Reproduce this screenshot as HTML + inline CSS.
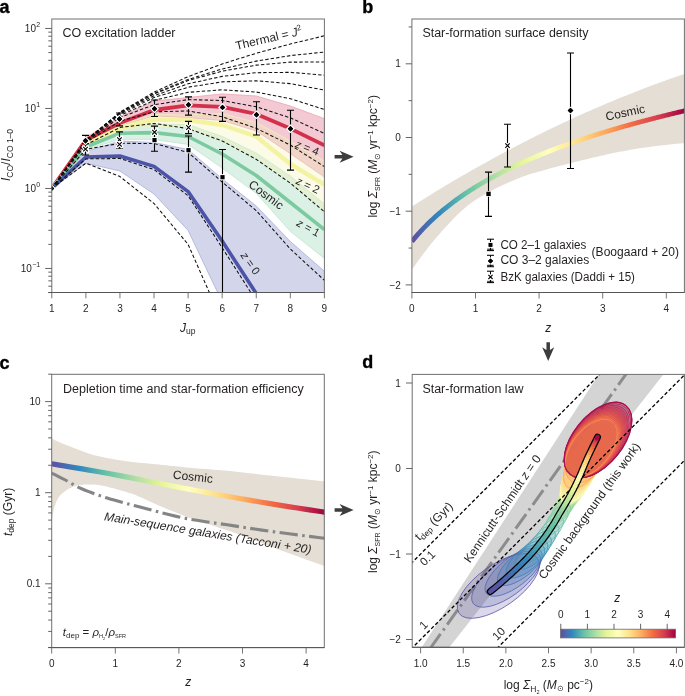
<!DOCTYPE html>
<html><head><meta charset="utf-8"><style>
html,body{margin:0;padding:0;background:#fff;}
svg{display:block;will-change:transform;}
text{font-family:"Liberation Sans", sans-serif;}
</style></head><body>
<svg width="685" height="696" viewBox="0 0 685 696" font-family="Liberation Sans, sans-serif">
<rect width="685" height="696" fill="#fff"/>
<clipPath id="ca"><rect x="51.80" y="19.00" width="272.60" height="273.50"/></clipPath>
<g clip-path="url(#ca)">
<polygon points="51.80,188.47 85.88,151.50 119.95,141.00 154.03,142.50 188.10,149.50 222.18,178.80 256.25,206.00 290.33,241.50 324.40,271.30 324.40,520.00 290.33,450.00 256.25,380.00 222.18,302.00 188.10,230.40 154.03,194.00 119.95,171.00 85.88,163.20 51.80,188.47" fill="#d3d5eb" stroke="#a9aedc" stroke-width="0.8"/>
<polygon points="51.80,188.47 85.88,144.00 119.95,128.50 154.03,124.00 188.10,124.50 222.18,136.50 256.25,153.00 290.33,176.00 324.40,204.00 324.40,258.40 290.33,231.30 256.25,193.30 222.18,168.00 188.10,144.40 154.03,139.50 119.95,139.30 85.88,149.50 51.80,188.47" fill="#dcf1e5" stroke="#bfe5cf" stroke-width="0.8"/>
<polygon points="51.80,188.47 85.88,137.50 119.95,117.00 154.03,101.00 188.10,97.50 222.18,93.90 256.25,96.00 290.33,106.00 324.40,118.70 324.40,177.00 290.33,153.60 256.25,131.00 222.18,120.50 188.10,117.70 154.03,115.80 119.95,126.00 85.88,142.00 51.80,188.47" fill="#f3c9d3" stroke="#e9a3b2" stroke-width="0.8"/>
<polygon points="51.80,188.47 85.88,141.50 119.95,124.50 154.03,114.50 188.10,115.00 222.18,113.50 256.25,122.50 290.33,141.00 324.40,161.00 324.40,210.00 290.33,181.50 256.25,158.00 222.18,141.00 188.10,127.50 154.03,126.00 119.95,130.00 85.88,145.50 51.80,188.47" fill="rgb(242,242,178)" fill-opacity="0.3" stroke="#f1f1b8" stroke-width="0.8"/>
<polyline points="51.80,188.47 85.88,143.50 119.95,128.00 154.03,119.50 188.10,120.00 222.18,125.00 256.25,136.50 290.33,164.00 324.40,184.70" fill="none" stroke="#f3f3a2" stroke-width="4.40" stroke-linejoin="round"/>
<polyline points="51.80,188.47 85.88,140.00 119.95,123.00 154.03,110.00 188.10,105.30 222.18,106.80 256.25,113.90 290.33,128.60 324.40,145.30" fill="none" stroke="#d3304b" stroke-width="3.80" stroke-linejoin="round"/>
<polyline points="51.80,188.47 85.88,147.00 119.95,133.20 154.03,132.60 188.10,136.50 222.18,154.00 256.25,175.50 290.33,202.50 324.40,229.60" fill="none" stroke="#7dcaa1" stroke-width="3.60" stroke-linejoin="round"/>
<polyline points="51.80,188.47 85.88,157.00 119.95,156.00 154.03,166.40 188.10,191.60 222.18,241.10 256.25,293.50 290.33,350.00 324.40,410.00" fill="none" stroke="#4c54a7" stroke-width="3.60" stroke-linejoin="round"/>
<polyline points="51.80,188.47 85.88,140.31 119.95,112.13 154.03,92.14 188.10,76.63 222.18,63.97 256.25,53.25 290.33,43.98 324.40,35.79" fill="none" stroke="#111" stroke-width="1.05" stroke-linejoin="round" stroke-dasharray="3.4,2.1"/>
<polyline points="51.80,188.47 85.88,140.39 119.95,112.62 154.03,93.50 188.10,79.46 222.18,68.93 256.25,61.12 290.33,55.60 324.40,52.08" fill="none" stroke="#111" stroke-width="1.05" stroke-linejoin="round" stroke-dasharray="3.4,2.1"/>
<polyline points="51.80,188.47 85.88,140.39 119.95,112.71 154.03,93.91 188.10,80.53 222.18,71.17 256.25,65.14 290.33,62.14 324.40,62.01" fill="none" stroke="#111" stroke-width="1.05" stroke-linejoin="round" stroke-dasharray="3.4,2.1"/>
<polyline points="51.80,188.47 85.88,140.54 119.95,113.43 154.03,95.67 188.10,83.80 222.18,76.37 256.25,72.67 290.33,72.35 324.40,75.20" fill="none" stroke="#111" stroke-width="1.05" stroke-linejoin="round" stroke-dasharray="3.4,2.1"/>
<polyline points="51.80,188.47 85.88,140.71 119.95,114.19 154.03,97.51 188.10,87.22 222.18,81.89 256.25,80.81 290.33,83.62 324.40,90.12" fill="none" stroke="#111" stroke-width="1.05" stroke-linejoin="round" stroke-dasharray="3.4,2.1"/>
<polyline points="51.80,188.47 85.88,141.02 119.95,115.48 154.03,100.41 188.10,92.35 222.18,89.81 256.25,92.06 290.33,98.70 324.40,109.49" fill="none" stroke="#111" stroke-width="1.05" stroke-linejoin="round" stroke-dasharray="3.4,2.1"/>
<polyline points="51.80,188.47 85.88,141.57 119.95,117.52 154.03,104.71 188.10,99.57 222.18,100.53 256.25,106.77 290.33,117.84 324.40,133.43" fill="none" stroke="#111" stroke-width="1.05" stroke-linejoin="round" stroke-dasharray="3.4,2.1"/>
<polyline points="51.80,188.47 85.88,142.67 119.95,121.14 154.03,111.84 188.10,110.96 222.18,116.77 256.25,128.32 290.33,145.05 324.40,166.58" fill="none" stroke="#111" stroke-width="1.05" stroke-linejoin="round" stroke-dasharray="3.4,2.1"/>
<polyline points="51.80,188.47 85.88,144.83 119.95,127.47 154.03,123.46 188.10,128.60 222.18,140.93 256.25,159.33 290.33,183.12 324.40,211.79" fill="none" stroke="#111" stroke-width="1.05" stroke-linejoin="round" stroke-dasharray="3.4,2.1"/>
<polyline points="51.80,188.47 85.88,149.30 119.95,143.30 154.03,143.50 188.10,152.40 222.18,182.00 256.25,210.60 290.33,249.00 324.40,280.30" fill="none" stroke="#111" stroke-width="1.05" stroke-linejoin="round" stroke-dasharray="3.4,2.1"/>
<polyline points="51.80,188.47 85.88,158.90 119.95,158.50 154.03,169.60 188.10,195.70 222.18,247.70 256.25,301.00 290.33,360.00 324.40,420.00" fill="none" stroke="#111" stroke-width="1.05" stroke-linejoin="round" stroke-dasharray="3.4,2.1"/>
<polyline points="51.80,188.47 85.88,163.20 119.95,176.60 154.03,203.50 188.10,244.40 222.18,321.50 256.25,400.00 290.33,480.00 324.40,560.00" fill="none" stroke="#111" stroke-width="1.05" stroke-linejoin="round" stroke-dasharray="3.4,2.1"/>
<line x1="85.50" y1="143.50" x2="85.50" y2="155.00" stroke="#000" stroke-width="1.10"/>
<line x1="82.00" y1="143.50" x2="89.00" y2="143.50" stroke="#000" stroke-width="1.10"/>
<line x1="82.00" y1="155.00" x2="89.00" y2="155.00" stroke="#000" stroke-width="1.10"/>
<line x1="119.50" y1="131.90" x2="119.50" y2="148.20" stroke="#000" stroke-width="1.10"/>
<line x1="116.00" y1="131.90" x2="123.00" y2="131.90" stroke="#000" stroke-width="1.10"/>
<line x1="116.00" y1="148.20" x2="123.00" y2="148.20" stroke="#000" stroke-width="1.10"/>
<line x1="119.50" y1="134.50" x2="119.50" y2="146.80" stroke="#000" stroke-width="1.10"/>
<line x1="116.00" y1="146.80" x2="123.00" y2="146.80" stroke="#000" stroke-width="1.10"/>
<line x1="154.50" y1="126.10" x2="154.50" y2="137.50" stroke="#000" stroke-width="1.10"/>
<line x1="151.00" y1="126.10" x2="158.00" y2="126.10" stroke="#000" stroke-width="1.10"/>
<line x1="188.50" y1="121.40" x2="188.50" y2="133.60" stroke="#000" stroke-width="1.10"/>
<line x1="185.00" y1="121.40" x2="192.00" y2="121.40" stroke="#000" stroke-width="1.10"/>
<line x1="185.00" y1="133.60" x2="192.00" y2="133.60" stroke="#000" stroke-width="1.10"/>
<line x1="154.50" y1="136.00" x2="154.50" y2="151.30" stroke="#000" stroke-width="1.10"/>
<line x1="151.00" y1="151.30" x2="158.00" y2="151.30" stroke="#000" stroke-width="1.10"/>
<line x1="188.50" y1="136.00" x2="188.50" y2="172.10" stroke="#000" stroke-width="1.10"/>
<line x1="185.00" y1="136.00" x2="192.00" y2="136.00" stroke="#000" stroke-width="1.10"/>
<line x1="185.00" y1="172.10" x2="192.00" y2="172.10" stroke="#000" stroke-width="1.10"/>
<line x1="222.50" y1="149.50" x2="222.50" y2="300.00" stroke="#000" stroke-width="1.10"/>
<line x1="219.00" y1="149.50" x2="226.00" y2="149.50" stroke="#000" stroke-width="1.10"/>
<line x1="85.50" y1="135.40" x2="85.50" y2="146.00" stroke="#000" stroke-width="1.10"/>
<line x1="82.00" y1="135.40" x2="89.00" y2="135.40" stroke="#000" stroke-width="1.10"/>
<line x1="119.50" y1="113.00" x2="119.50" y2="125.90" stroke="#000" stroke-width="1.10"/>
<line x1="116.00" y1="113.00" x2="123.00" y2="113.00" stroke="#000" stroke-width="1.10"/>
<line x1="116.00" y1="125.90" x2="123.00" y2="125.90" stroke="#000" stroke-width="1.10"/>
<line x1="154.50" y1="100.00" x2="154.50" y2="116.50" stroke="#000" stroke-width="1.10"/>
<line x1="151.00" y1="100.00" x2="158.00" y2="100.00" stroke="#000" stroke-width="1.10"/>
<line x1="151.00" y1="116.50" x2="158.00" y2="116.50" stroke="#000" stroke-width="1.10"/>
<line x1="188.50" y1="96.90" x2="188.50" y2="115.10" stroke="#000" stroke-width="1.10"/>
<line x1="185.00" y1="96.90" x2="192.00" y2="96.90" stroke="#000" stroke-width="1.10"/>
<line x1="185.00" y1="115.10" x2="192.00" y2="115.10" stroke="#000" stroke-width="1.10"/>
<line x1="222.50" y1="97.30" x2="222.50" y2="121.40" stroke="#000" stroke-width="1.10"/>
<line x1="219.00" y1="97.30" x2="226.00" y2="97.30" stroke="#000" stroke-width="1.10"/>
<line x1="219.00" y1="121.40" x2="226.00" y2="121.40" stroke="#000" stroke-width="1.10"/>
<line x1="256.50" y1="101.80" x2="256.50" y2="135.00" stroke="#000" stroke-width="1.10"/>
<line x1="253.00" y1="101.80" x2="260.00" y2="101.80" stroke="#000" stroke-width="1.10"/>
<line x1="253.00" y1="135.00" x2="260.00" y2="135.00" stroke="#000" stroke-width="1.10"/>
<line x1="290.50" y1="110.20" x2="290.50" y2="170.10" stroke="#000" stroke-width="1.10"/>
<line x1="287.00" y1="110.20" x2="294.00" y2="110.20" stroke="#000" stroke-width="1.10"/>
<line x1="287.00" y1="170.10" x2="294.00" y2="170.10" stroke="#000" stroke-width="1.10"/>
<path d="M83.20 146.80L87.80 151.40M83.20 151.40L87.80 146.80" stroke="#fff" stroke-width="3.30" stroke-linecap="round"/>
<path d="M83.20 146.80L87.80 151.40M83.20 151.40L87.80 146.80" stroke="#000" stroke-width="1.10"/>
<path d="M117.20 137.30L121.80 141.90M117.20 141.90L121.80 137.30" stroke="#fff" stroke-width="3.30" stroke-linecap="round"/>
<path d="M117.20 137.30L121.80 141.90M117.20 141.90L121.80 137.30" stroke="#000" stroke-width="1.10"/>
<path d="M117.20 142.10L121.80 146.70M117.20 146.70L121.80 142.10" stroke="#fff" stroke-width="3.30" stroke-linecap="round"/>
<path d="M117.20 142.10L121.80 146.70M117.20 146.70L121.80 142.10" stroke="#000" stroke-width="1.10"/>
<path d="M152.20 129.90L156.80 134.50M152.20 134.50L156.80 129.90" stroke="#fff" stroke-width="3.30" stroke-linecap="round"/>
<path d="M152.20 129.90L156.80 134.50M152.20 134.50L156.80 129.90" stroke="#000" stroke-width="1.10"/>
<path d="M186.20 125.20L190.80 129.80M186.20 129.80L190.80 125.20" stroke="#fff" stroke-width="3.30" stroke-linecap="round"/>
<path d="M186.20 125.20L190.80 129.80M186.20 129.80L190.80 125.20" stroke="#000" stroke-width="1.10"/>
<rect x="152.40" y="138.00" width="4.20" height="4.20" fill="#000" stroke="#fff" stroke-width="2.00" paint-order="stroke"/>
<rect x="186.40" y="148.10" width="4.20" height="4.20" fill="#000" stroke="#fff" stroke-width="2.00" paint-order="stroke"/>
<rect x="220.40" y="175.10" width="4.20" height="4.20" fill="#000" stroke="#fff" stroke-width="2.00" paint-order="stroke"/>
<polygon points="51.50,185.77 54.20,188.47 51.50,191.17 48.80,188.47" fill="#000" stroke="#fff" stroke-width="2.60" paint-order="stroke"/>
<polygon points="51.50,185.77 54.20,188.47 51.50,191.17 48.80,188.47" fill="#000"/>
<polygon points="85.50,138.10 88.20,140.80 85.50,143.50 82.80,140.80" fill="#000" stroke="#fff" stroke-width="2.60" paint-order="stroke"/>
<polygon points="85.50,138.10 88.20,140.80 85.50,143.50 82.80,140.80" fill="#000"/>
<polygon points="119.50,116.30 122.20,119.00 119.50,121.70 116.80,119.00" fill="#000" stroke="#fff" stroke-width="2.60" paint-order="stroke"/>
<polygon points="119.50,116.30 122.20,119.00 119.50,121.70 116.80,119.00" fill="#000"/>
<polygon points="154.50,106.10 157.20,108.80 154.50,111.50 151.80,108.80" fill="#000" stroke="#fff" stroke-width="2.60" paint-order="stroke"/>
<polygon points="154.50,106.10 157.20,108.80 154.50,111.50 151.80,108.80" fill="#000"/>
<polygon points="188.50,102.10 191.20,104.80 188.50,107.50 185.80,104.80" fill="#000" stroke="#fff" stroke-width="2.60" paint-order="stroke"/>
<polygon points="188.50,102.10 191.20,104.80 188.50,107.50 185.80,104.80" fill="#000"/>
<polygon points="222.50,104.70 225.20,107.40 222.50,110.10 219.80,107.40" fill="#000" stroke="#fff" stroke-width="2.60" paint-order="stroke"/>
<polygon points="222.50,104.70 225.20,107.40 222.50,110.10 219.80,107.40" fill="#000"/>
<polygon points="256.50,112.00 259.20,114.70 256.50,117.40 253.80,114.70" fill="#000" stroke="#fff" stroke-width="2.60" paint-order="stroke"/>
<polygon points="256.50,112.00 259.20,114.70 256.50,117.40 253.80,114.70" fill="#000"/>
<polygon points="290.50,126.00 293.20,128.70 290.50,131.40 287.80,128.70" fill="#000" stroke="#fff" stroke-width="2.60" paint-order="stroke"/>
<polygon points="290.50,126.00 293.20,128.70 290.50,131.40 287.80,128.70" fill="#000"/>
</g>
<rect x="51.80" y="19.00" width="272.60" height="273.50" fill="none" stroke="#707070" stroke-width="1"/>
<line x1="48.30" y1="292.50" x2="324.40" y2="292.50" stroke="#555" stroke-width="1"/>
<line x1="48.30" y1="292.55" x2="51.80" y2="292.55" stroke="#555" stroke-width="0.9"/>
<line x1="48.30" y1="286.22" x2="51.80" y2="286.22" stroke="#555" stroke-width="0.9"/>
<line x1="48.30" y1="280.86" x2="51.80" y2="280.86" stroke="#555" stroke-width="0.9"/>
<line x1="48.30" y1="276.22" x2="51.80" y2="276.22" stroke="#555" stroke-width="0.9"/>
<line x1="48.30" y1="272.13" x2="51.80" y2="272.13" stroke="#555" stroke-width="0.9"/>
<line x1="45.20" y1="268.47" x2="51.80" y2="268.47" stroke="#555" stroke-width="0.9"/>
<line x1="48.30" y1="244.39" x2="51.80" y2="244.39" stroke="#555" stroke-width="0.9"/>
<line x1="48.30" y1="230.30" x2="51.80" y2="230.30" stroke="#555" stroke-width="0.9"/>
<line x1="48.30" y1="220.31" x2="51.80" y2="220.31" stroke="#555" stroke-width="0.9"/>
<line x1="48.30" y1="212.55" x2="51.80" y2="212.55" stroke="#555" stroke-width="0.9"/>
<line x1="48.30" y1="206.22" x2="51.80" y2="206.22" stroke="#555" stroke-width="0.9"/>
<line x1="48.30" y1="200.86" x2="51.80" y2="200.86" stroke="#555" stroke-width="0.9"/>
<line x1="48.30" y1="196.22" x2="51.80" y2="196.22" stroke="#555" stroke-width="0.9"/>
<line x1="48.30" y1="192.13" x2="51.80" y2="192.13" stroke="#555" stroke-width="0.9"/>
<line x1="45.20" y1="188.47" x2="51.80" y2="188.47" stroke="#555" stroke-width="0.9"/>
<line x1="48.30" y1="164.39" x2="51.80" y2="164.39" stroke="#555" stroke-width="0.9"/>
<line x1="48.30" y1="150.30" x2="51.80" y2="150.30" stroke="#555" stroke-width="0.9"/>
<line x1="48.30" y1="140.31" x2="51.80" y2="140.31" stroke="#555" stroke-width="0.9"/>
<line x1="48.30" y1="132.55" x2="51.80" y2="132.55" stroke="#555" stroke-width="0.9"/>
<line x1="48.30" y1="126.22" x2="51.80" y2="126.22" stroke="#555" stroke-width="0.9"/>
<line x1="48.30" y1="120.86" x2="51.80" y2="120.86" stroke="#555" stroke-width="0.9"/>
<line x1="48.30" y1="116.22" x2="51.80" y2="116.22" stroke="#555" stroke-width="0.9"/>
<line x1="48.30" y1="112.13" x2="51.80" y2="112.13" stroke="#555" stroke-width="0.9"/>
<line x1="45.20" y1="108.47" x2="51.80" y2="108.47" stroke="#555" stroke-width="0.9"/>
<line x1="48.30" y1="84.39" x2="51.80" y2="84.39" stroke="#555" stroke-width="0.9"/>
<line x1="48.30" y1="70.30" x2="51.80" y2="70.30" stroke="#555" stroke-width="0.9"/>
<line x1="48.30" y1="60.31" x2="51.80" y2="60.31" stroke="#555" stroke-width="0.9"/>
<line x1="48.30" y1="52.55" x2="51.80" y2="52.55" stroke="#555" stroke-width="0.9"/>
<line x1="48.30" y1="46.22" x2="51.80" y2="46.22" stroke="#555" stroke-width="0.9"/>
<line x1="48.30" y1="40.86" x2="51.80" y2="40.86" stroke="#555" stroke-width="0.9"/>
<line x1="48.30" y1="36.22" x2="51.80" y2="36.22" stroke="#555" stroke-width="0.9"/>
<line x1="48.30" y1="32.13" x2="51.80" y2="32.13" stroke="#555" stroke-width="0.9"/>
<line x1="45.20" y1="28.47" x2="51.80" y2="28.47" stroke="#555" stroke-width="0.9"/>
<text x="40.2" y="31.87" font-size="10" text-anchor="end" fill="#231f20">10<tspan font-size="7" dy="-4.6" dx="0.3">2</tspan></text>
<text x="40.2" y="111.87" font-size="10" text-anchor="end" fill="#231f20">10<tspan font-size="7" dy="-4.6" dx="0.3">1</tspan></text>
<text x="40.2" y="191.87" font-size="10" text-anchor="end" fill="#231f20">10<tspan font-size="7" dy="-4.6" dx="0.3">0</tspan></text>
<text x="40.2" y="271.87" font-size="10" text-anchor="end" fill="#231f20">10<tspan font-size="7" dy="-4.6" dx="0.3">&#8722;1</tspan></text>
<line x1="51.80" y1="292.50" x2="51.80" y2="298.30" stroke="#666" stroke-width="0.9"/>
<text x="51.80" y="311.80" font-size="10.00" text-anchor="middle" font-weight="normal" font-style="normal" fill="#231f20">1</text>
<line x1="85.88" y1="292.50" x2="85.88" y2="298.30" stroke="#666" stroke-width="0.9"/>
<text x="85.88" y="311.80" font-size="10.00" text-anchor="middle" font-weight="normal" font-style="normal" fill="#231f20">2</text>
<line x1="119.95" y1="292.50" x2="119.95" y2="298.30" stroke="#666" stroke-width="0.9"/>
<text x="119.95" y="311.80" font-size="10.00" text-anchor="middle" font-weight="normal" font-style="normal" fill="#231f20">3</text>
<line x1="154.03" y1="292.50" x2="154.03" y2="298.30" stroke="#666" stroke-width="0.9"/>
<text x="154.03" y="311.80" font-size="10.00" text-anchor="middle" font-weight="normal" font-style="normal" fill="#231f20">4</text>
<line x1="188.10" y1="292.50" x2="188.10" y2="298.30" stroke="#666" stroke-width="0.9"/>
<text x="188.10" y="311.80" font-size="10.00" text-anchor="middle" font-weight="normal" font-style="normal" fill="#231f20">5</text>
<line x1="222.18" y1="292.50" x2="222.18" y2="298.30" stroke="#666" stroke-width="0.9"/>
<text x="222.18" y="311.80" font-size="10.00" text-anchor="middle" font-weight="normal" font-style="normal" fill="#231f20">6</text>
<line x1="256.25" y1="292.50" x2="256.25" y2="298.30" stroke="#666" stroke-width="0.9"/>
<text x="256.25" y="311.80" font-size="10.00" text-anchor="middle" font-weight="normal" font-style="normal" fill="#231f20">7</text>
<line x1="290.33" y1="292.50" x2="290.33" y2="298.30" stroke="#666" stroke-width="0.9"/>
<text x="290.33" y="311.80" font-size="10.00" text-anchor="middle" font-weight="normal" font-style="normal" fill="#231f20">8</text>
<line x1="324.40" y1="292.50" x2="324.40" y2="298.30" stroke="#666" stroke-width="0.9"/>
<text x="324.40" y="311.80" font-size="10.00" text-anchor="middle" font-weight="normal" font-style="normal" fill="#231f20">9</text>
<clipPath id="cb"><rect x="411.90" y="19.00" width="272.50" height="273.50"/></clipPath>
<g clip-path="url(#cb)">
<polygon points="411.90,206.41 415.08,204.40 418.26,202.39 421.44,200.40 424.62,198.42 427.80,196.45 430.98,194.49 434.16,192.54 437.34,190.61 440.52,188.68 443.70,186.77 446.88,184.87 450.06,182.97 453.24,181.09 456.42,179.22 459.60,177.36 462.78,175.51 465.96,173.68 469.14,171.85 472.32,170.04 475.50,168.23 478.68,166.44 481.86,164.66 485.04,162.89 488.22,161.13 491.40,159.38 494.58,157.64 497.76,155.92 500.94,154.20 504.12,152.50 507.30,150.80 510.48,149.12 513.66,147.45 516.84,145.79 520.02,144.14 523.20,142.50 526.38,140.88 529.56,139.26 532.74,137.65 535.92,136.06 539.10,134.48 542.28,132.91 545.46,131.35 548.64,129.80 551.82,128.26 555.00,126.73 558.18,125.21 561.36,123.71 564.54,122.21 567.72,120.73 570.90,119.26 574.08,117.80 577.26,116.35 580.44,114.91 583.62,113.48 586.80,112.06 589.98,110.66 593.16,109.26 596.34,107.88 599.52,106.51 602.70,105.15 605.88,103.80 609.06,102.46 612.24,101.13 615.42,99.81 618.60,98.50 621.78,97.21 624.96,95.92 628.14,94.65 631.32,93.39 634.50,92.14 637.68,90.90 640.86,89.67 644.04,88.45 647.22,87.24 650.40,86.05 653.58,84.86 656.76,83.69 659.94,82.53 663.12,81.38 666.30,80.24 669.48,79.11 672.66,77.99 675.84,76.88 679.02,75.78 682.20,74.70 685.38,73.62 688.56,72.56 685.38,142.88 682.98,143.14 679.88,143.47 676.20,143.85 672.09,144.28 667.65,144.75 663.03,145.25 658.36,145.78 653.76,146.33 649.37,146.89 645.31,147.45 641.49,148.02 637.73,148.61 634.01,149.22 630.33,149.85 626.67,150.50 623.03,151.17 619.39,151.87 615.75,152.58 612.10,153.32 608.42,154.08 604.69,154.89 600.88,155.74 597.04,156.63 593.18,157.55 589.34,158.48 585.56,159.42 581.85,160.34 578.26,161.24 574.81,162.11 571.54,162.93 568.44,163.70 565.51,164.43 562.71,165.14 560.03,165.82 557.42,166.50 554.88,167.16 552.38,167.83 549.88,168.51 547.37,169.21 544.82,169.93 542.30,170.64 539.85,171.32 537.46,171.97 535.10,172.63 532.74,173.31 530.35,174.03 527.92,174.81 525.40,175.66 522.78,176.61 520.02,177.67 517.09,178.85 514.01,180.13 510.79,181.49 507.50,182.93 504.16,184.44 500.82,185.99 497.51,187.57 494.28,189.18 491.17,190.80 488.22,192.41 485.43,193.97 482.78,195.49 480.23,196.98 477.76,198.49 475.33,200.05 472.91,201.69 470.48,203.45 468.00,205.35 465.44,207.43 462.78,209.73 459.99,212.28 457.08,215.08 454.10,218.08 451.07,221.22 448.02,224.48 444.99,227.79 442.02,231.12 439.12,234.40 436.34,237.61 433.71,240.68 431.14,243.78 428.54,247.05 425.95,250.41 423.42,253.77 420.99,257.06 418.71,260.19 416.61,263.09 414.75,265.67 413.17,267.86 411.90,269.57" fill="#e4ded4"/>
<defs><linearGradient id="gb" gradientUnits="userSpaceOnUse" x1="411.90" y1="0" x2="685.38" y2="0"><stop offset="0.000" stop-color="#5e4fa2"/><stop offset="0.025" stop-color="#535da9"/><stop offset="0.050" stop-color="#486cb0"/><stop offset="0.075" stop-color="#3d7ab6"/><stop offset="0.100" stop-color="#3288bd"/><stop offset="0.125" stop-color="#3f96b7"/><stop offset="0.150" stop-color="#4ca5b1"/><stop offset="0.175" stop-color="#59b4ab"/><stop offset="0.200" stop-color="#66c2a5"/><stop offset="0.225" stop-color="#77c9a5"/><stop offset="0.250" stop-color="#88d0a4"/><stop offset="0.275" stop-color="#9ad6a4"/><stop offset="0.300" stop-color="#abdda4"/><stop offset="0.325" stop-color="#bae3a1"/><stop offset="0.350" stop-color="#c8e99e"/><stop offset="0.375" stop-color="#d7ef9b"/><stop offset="0.400" stop-color="#e6f598"/><stop offset="0.425" stop-color="#ecf8a2"/><stop offset="0.450" stop-color="#f2faac"/><stop offset="0.475" stop-color="#f9fcb5"/><stop offset="0.500" stop-color="#ffffbf"/><stop offset="0.525" stop-color="#fff7b2"/><stop offset="0.550" stop-color="#fef0a5"/><stop offset="0.575" stop-color="#fee898"/><stop offset="0.600" stop-color="#fee08b"/><stop offset="0.625" stop-color="#fed480"/><stop offset="0.650" stop-color="#fec776"/><stop offset="0.675" stop-color="#fdba6c"/><stop offset="0.700" stop-color="#fdae61"/><stop offset="0.725" stop-color="#fb9e5a"/><stop offset="0.750" stop-color="#f88e52"/><stop offset="0.775" stop-color="#f67d4a"/><stop offset="0.800" stop-color="#f46d43"/><stop offset="0.825" stop-color="#ec6146"/><stop offset="0.850" stop-color="#e45649"/><stop offset="0.875" stop-color="#dd4a4c"/><stop offset="0.900" stop-color="#d53e4f"/><stop offset="0.925" stop-color="#c72f4c"/><stop offset="0.950" stop-color="#ba2048"/><stop offset="0.975" stop-color="#ac1045"/><stop offset="1.000" stop-color="#9e0142"/></linearGradient></defs>
<polyline points="411.90,241.42 413.17,239.86 414.44,238.34 415.72,236.85 416.99,235.38 418.26,233.94 419.53,232.53 420.80,231.14 422.08,229.78 423.35,228.44 424.62,227.12 425.89,225.82 427.16,224.55 428.44,223.29 429.71,222.06 430.98,220.84 432.25,219.65 433.52,218.47 434.80,217.30 436.07,216.16 437.34,215.03 438.61,213.92 439.88,212.82 441.16,211.74 442.43,210.67 443.70,209.62 444.97,208.58 446.24,207.56 447.52,206.55 448.79,205.55 450.06,204.56 451.33,203.59 452.60,202.62 453.88,201.67 455.15,200.73 456.42,199.81 457.69,198.89 458.96,197.98 460.24,197.09 461.51,196.20 462.78,195.32 464.05,194.46 465.32,193.60 466.60,192.75 467.87,191.91 469.14,191.08 470.41,190.26 471.68,189.45 472.96,188.65 474.23,187.85 475.50,187.06 476.77,186.28 478.04,185.51 479.32,184.74 480.59,183.99 481.86,183.24 483.13,182.49 484.40,181.76 485.68,181.03 486.95,180.30 488.22,179.59 489.49,178.88 490.76,178.17 492.04,177.48 493.31,176.79 494.58,176.10 495.85,175.42 497.12,174.75 498.40,174.08 499.67,173.42 500.94,172.76 502.21,172.11 503.48,171.47 504.76,170.83 506.03,170.19 507.30,169.56 508.57,168.94 509.84,168.32 511.12,167.70 512.39,167.09 513.66,166.49 514.93,165.89 516.20,165.29 517.48,164.70 518.75,164.11 520.02,163.53 521.29,162.95 522.56,162.37 523.84,161.80 525.11,161.24 526.38,160.68 527.65,160.12 528.92,159.56 530.20,159.01 531.47,158.47 532.74,157.92 534.01,157.39 535.28,156.85 536.56,156.32 537.83,155.79 539.10,155.27 540.37,154.74 541.64,154.23 542.92,153.71 544.19,153.20 545.46,152.69 546.73,152.19 548.00,151.69 549.28,151.19 550.55,150.70 551.82,150.20 553.09,149.72 554.36,149.23 555.64,148.75 556.91,148.27 558.18,147.79 559.45,147.32 560.72,146.85 562.00,146.38 563.27,145.91 564.54,145.45 565.81,144.99 567.08,144.53 568.36,144.08 569.63,143.63 570.90,143.18 572.17,142.73 573.44,142.29 574.72,141.84 575.99,141.41 577.26,140.97 578.53,140.53 579.80,140.10 581.08,139.67 582.35,139.24 583.62,138.82 584.89,138.40 586.16,137.98 587.44,137.56 588.71,137.14 589.98,136.73 591.25,136.32 592.52,135.91 593.80,135.50 595.07,135.09 596.34,134.69 597.61,134.29 598.88,133.89 600.16,133.49 601.43,133.10 602.70,132.71 603.97,132.31 605.24,131.93 606.52,131.54 607.79,131.15 609.06,130.77 610.33,130.39 611.60,130.01 612.88,129.63 614.15,129.25 615.42,128.88 616.69,128.51 617.96,128.14 619.24,127.77 620.51,127.40 621.78,127.03 623.05,126.67 624.32,126.31 625.60,125.95 626.87,125.59 628.14,125.23 629.41,124.88 630.68,124.52 631.96,124.17 633.23,123.82 634.50,123.47 635.77,123.12 637.04,122.78 638.32,122.43 639.59,122.09 640.86,121.75 642.13,121.41 643.40,121.07 644.68,120.73 645.95,120.39 647.22,120.06 648.49,119.73 649.76,119.40 651.04,119.06 652.31,118.74 653.58,118.41 654.85,118.08 656.12,117.76 657.40,117.43 658.67,117.11 659.94,116.79 661.21,116.47 662.48,116.15 663.76,115.84 665.03,115.52 666.30,115.21 667.57,114.89 668.84,114.58 670.12,114.27 671.39,113.96 672.66,113.65 673.93,113.35 675.20,113.04 676.48,112.74 677.75,112.43 679.02,112.13 680.29,111.83 681.56,111.53 682.84,111.23 684.11,110.93 685.38,110.64 686.65,110.34 687.92,110.05" fill="none" stroke="url(#gb)" stroke-width="4.8"/>
<line x1="488.50" y1="172.14" x2="488.50" y2="216.36" stroke="#000" stroke-width="1.10"/>
<line x1="485.00" y1="172.14" x2="492.00" y2="172.14" stroke="#000" stroke-width="1.10"/>
<line x1="485.00" y1="216.36" x2="492.00" y2="216.36" stroke="#000" stroke-width="1.10"/>
<rect x="486.30" y="191.68" width="4.40" height="4.40" fill="#000" stroke="#fff" stroke-width="1.40" paint-order="stroke"/>
<line x1="507.50" y1="124.23" x2="507.50" y2="166.98" stroke="#000" stroke-width="1.10"/>
<line x1="504.00" y1="124.23" x2="511.00" y2="124.23" stroke="#000" stroke-width="1.10"/>
<line x1="504.00" y1="166.98" x2="511.00" y2="166.98" stroke="#000" stroke-width="1.10"/>
<path d="M505.30 143.41L509.70 147.81M505.30 147.81L509.70 143.41" stroke="#fff" stroke-width="3.30" stroke-linecap="round"/>
<path d="M505.30 143.41L509.70 147.81M505.30 147.81L509.70 143.41" stroke="#000" stroke-width="1.10"/>
<line x1="570.50" y1="52.97" x2="570.50" y2="168.45" stroke="#000" stroke-width="1.10"/>
<line x1="567.00" y1="52.97" x2="574.00" y2="52.97" stroke="#000" stroke-width="1.10"/>
<line x1="567.00" y1="168.45" x2="574.00" y2="168.45" stroke="#000" stroke-width="1.10"/>
<polygon points="570.50,107.73 573.30,110.53 570.50,113.33 567.70,110.53" fill="#000" stroke="#fff" stroke-width="1.60" paint-order="stroke"/>
<polygon points="570.50,107.73 573.30,110.53 570.50,113.33 567.70,110.53" fill="#000"/>
</g>
<rect x="411.90" y="19.00" width="272.50" height="273.50" fill="none" stroke="#707070" stroke-width="1"/>
<line x1="411.90" y1="292.50" x2="684.40" y2="292.50" stroke="#555" stroke-width="1"/>
<line x1="408.60" y1="26.95" x2="411.90" y2="26.95" stroke="#555" stroke-width="0.9"/>
<line x1="405.70" y1="63.80" x2="411.90" y2="63.80" stroke="#555" stroke-width="0.9"/>
<line x1="408.60" y1="100.65" x2="411.90" y2="100.65" stroke="#555" stroke-width="0.9"/>
<line x1="405.70" y1="137.50" x2="411.90" y2="137.50" stroke="#555" stroke-width="0.9"/>
<line x1="408.60" y1="174.35" x2="411.90" y2="174.35" stroke="#555" stroke-width="0.9"/>
<line x1="405.70" y1="211.20" x2="411.90" y2="211.20" stroke="#555" stroke-width="0.9"/>
<line x1="408.60" y1="248.05" x2="411.90" y2="248.05" stroke="#555" stroke-width="0.9"/>
<line x1="405.70" y1="284.90" x2="411.90" y2="284.90" stroke="#555" stroke-width="0.9"/>
<text x="400.80" y="67.40" font-size="10.00" text-anchor="end" font-weight="normal" font-style="normal" fill="#231f20">1</text>
<text x="400.80" y="141.10" font-size="10.00" text-anchor="end" font-weight="normal" font-style="normal" fill="#231f20">0</text>
<text x="400.80" y="214.80" font-size="10.00" text-anchor="end" font-weight="normal" font-style="normal" fill="#231f20">&#8722;1</text>
<text x="400.80" y="288.50" font-size="10.00" text-anchor="end" font-weight="normal" font-style="normal" fill="#231f20">&#8722;2</text>
<line x1="411.90" y1="292.50" x2="411.90" y2="298.50" stroke="#666" stroke-width="0.9"/>
<text x="411.90" y="311.80" font-size="10.00" text-anchor="middle" font-weight="normal" font-style="normal" fill="#231f20">0</text>
<line x1="475.50" y1="292.50" x2="475.50" y2="298.50" stroke="#666" stroke-width="0.9"/>
<text x="475.50" y="311.80" font-size="10.00" text-anchor="middle" font-weight="normal" font-style="normal" fill="#231f20">1</text>
<line x1="539.10" y1="292.50" x2="539.10" y2="298.50" stroke="#666" stroke-width="0.9"/>
<text x="539.10" y="311.80" font-size="10.00" text-anchor="middle" font-weight="normal" font-style="normal" fill="#231f20">2</text>
<line x1="602.70" y1="292.50" x2="602.70" y2="298.50" stroke="#666" stroke-width="0.9"/>
<text x="602.70" y="311.80" font-size="10.00" text-anchor="middle" font-weight="normal" font-style="normal" fill="#231f20">3</text>
<line x1="666.30" y1="292.50" x2="666.30" y2="298.50" stroke="#666" stroke-width="0.9"/>
<text x="666.30" y="311.80" font-size="10.00" text-anchor="middle" font-weight="normal" font-style="normal" fill="#231f20">4</text>
<clipPath id="cc"><rect x="51.70" y="374.30" width="272.60" height="273.30"/></clipPath>
<g clip-path="url(#cc)">
<polygon points="50.00,438.40 51.70,438.40 52.58,438.85 53.77,439.46 55.20,440.19 56.77,440.98 58.40,441.77 60.00,442.50 61.49,443.14 62.94,443.74 64.44,444.33 66.11,444.97 68.06,445.71 70.40,446.60 73.23,447.70 76.49,448.99 80.03,450.37 83.70,451.76 87.37,453.07 90.90,454.20 94.31,455.16 97.71,456.01 101.11,456.78 104.50,457.49 107.90,458.15 111.30,458.80 114.70,459.42 118.10,459.99 121.49,460.51 124.89,461.00 128.29,461.46 131.70,461.90 135.11,462.30 138.53,462.64 141.95,462.96 145.37,463.27 148.79,463.57 152.20,463.90 155.64,464.25 159.12,464.60 162.59,464.96 166.03,465.32 169.37,465.67 172.60,466.00 175.44,466.30 177.89,466.58 180.24,466.84 182.84,467.12 185.98,467.43 190.00,467.80 195.01,468.21 200.77,468.65 207.09,469.12 213.75,469.63 220.56,470.19 227.30,470.80 233.93,471.47 240.60,472.20 247.42,472.97 254.47,473.78 261.87,474.63 269.70,475.50 278.71,476.48 288.96,477.59 299.54,478.73 309.57,479.81 318.12,480.73 324.30,481.40 327.66,481.77 328.85,481.90 328.56,481.87 327.52,481.76 326.43,481.64 326.00,481.60 326.00,566.60 326.31,566.71 327.14,567.01 327.92,567.30 328.09,567.36 327.07,567.00 324.30,566.00 319.33,564.22 312.53,561.78 304.54,558.92 296.03,555.85 287.63,552.80 280.00,550.00 272.77,547.28 265.33,544.44 258.01,541.62 251.13,538.96 245.02,536.61 240.00,534.70 236.53,533.41 234.44,532.64 233.12,532.19 231.96,531.81 230.32,531.29 227.60,530.40 223.71,529.13 219.11,527.67 214.05,526.07 208.76,524.37 203.46,522.63 198.40,520.90 193.53,519.18 188.67,517.41 183.80,515.61 178.93,513.76 174.07,511.86 169.20,509.90 164.09,507.75 158.69,505.39 153.29,502.98 148.19,500.67 143.66,498.62 140.00,497.00 137.56,495.92 136.18,495.27 135.38,494.88 134.69,494.59 133.62,494.22 131.70,493.60 128.72,492.68 125.02,491.59 120.94,490.42 116.85,489.27 113.08,488.23 110.00,487.40 107.65,486.80 105.75,486.35 104.19,486.01 102.83,485.75 101.54,485.53 100.20,485.30 98.86,485.08 97.64,484.91 96.49,484.77 95.37,484.66 94.26,484.57 93.10,484.50 91.91,484.44 90.71,484.41 89.51,484.40 88.30,484.41 87.10,484.44 85.90,484.50 84.70,484.57 83.50,484.66 82.30,484.77 81.10,484.91 79.90,485.08 78.70,485.30 77.50,485.55 76.30,485.82 75.09,486.13 73.89,486.49 72.69,486.91 71.50,487.40 70.30,487.97 69.08,488.61 67.86,489.32 66.67,490.07 65.51,490.87 64.40,491.70 63.34,492.53 62.31,493.37 61.33,494.24 60.37,495.20 59.46,496.27 58.60,497.50 57.78,498.87 56.99,500.35 56.25,501.94 55.55,503.66 54.90,505.51 54.30,507.50 53.74,509.85 53.21,512.60 52.73,515.48 52.31,518.21 51.96,520.55 51.70,522.20 50.00,522.20" fill="#e4ded4"/>
<polyline points="51.70,473.10 53.06,473.78 54.93,474.70 57.16,475.81 59.58,477.02 62.04,478.27 64.40,479.50 66.69,480.75 69.04,482.10 71.44,483.49 73.87,484.87 76.29,486.19 78.70,487.40 81.07,488.49 83.40,489.49 85.74,490.44 88.11,491.35 90.55,492.26 93.10,493.20 95.62,494.13 98.06,495.02 100.57,495.91 103.30,496.83 106.40,497.81 110.00,498.90 114.08,500.08 118.52,501.31 123.32,502.62 128.49,504.00 134.05,505.45 140.00,507.00 146.50,508.71 153.59,510.61 161.06,512.58 168.71,514.54 176.36,516.38 183.80,518.00 191.08,519.38 198.36,520.59 205.64,521.69 212.89,522.72 220.12,523.74 227.30,524.80 234.29,525.88 241.06,526.94 247.81,527.99 254.70,529.04 261.94,530.10 269.70,531.20 278.71,532.41 288.96,533.74 299.54,535.09 309.57,536.35 318.12,537.42 324.30,538.20 327.66,538.63 328.85,538.78 328.56,538.74 327.52,538.60 326.43,538.46 326.00,538.40" fill="none" stroke="#858585" stroke-width="3.1" stroke-dasharray="18.3,4.5,2.5,4.4" stroke-dashoffset="0.52"/>
<defs><linearGradient id="gc" gradientUnits="userSpaceOnUse" x1="51.70" y1="0" x2="325.18" y2="0"><stop offset="0.000" stop-color="#5e4fa2"/><stop offset="0.025" stop-color="#535da9"/><stop offset="0.050" stop-color="#486cb0"/><stop offset="0.075" stop-color="#3d7ab6"/><stop offset="0.100" stop-color="#3288bd"/><stop offset="0.125" stop-color="#3f96b7"/><stop offset="0.150" stop-color="#4ca5b1"/><stop offset="0.175" stop-color="#59b4ab"/><stop offset="0.200" stop-color="#66c2a5"/><stop offset="0.225" stop-color="#77c9a5"/><stop offset="0.250" stop-color="#88d0a4"/><stop offset="0.275" stop-color="#9ad6a4"/><stop offset="0.300" stop-color="#abdda4"/><stop offset="0.325" stop-color="#bae3a1"/><stop offset="0.350" stop-color="#c8e99e"/><stop offset="0.375" stop-color="#d7ef9b"/><stop offset="0.400" stop-color="#e6f598"/><stop offset="0.425" stop-color="#ecf8a2"/><stop offset="0.450" stop-color="#f2faac"/><stop offset="0.475" stop-color="#f9fcb5"/><stop offset="0.500" stop-color="#ffffbf"/><stop offset="0.525" stop-color="#fff7b2"/><stop offset="0.550" stop-color="#fef0a5"/><stop offset="0.575" stop-color="#fee898"/><stop offset="0.600" stop-color="#fee08b"/><stop offset="0.625" stop-color="#fed480"/><stop offset="0.650" stop-color="#fec776"/><stop offset="0.675" stop-color="#fdba6c"/><stop offset="0.700" stop-color="#fdae61"/><stop offset="0.725" stop-color="#fb9e5a"/><stop offset="0.750" stop-color="#f88e52"/><stop offset="0.775" stop-color="#f67d4a"/><stop offset="0.800" stop-color="#f46d43"/><stop offset="0.825" stop-color="#ec6146"/><stop offset="0.850" stop-color="#e45649"/><stop offset="0.875" stop-color="#dd4a4c"/><stop offset="0.900" stop-color="#d53e4f"/><stop offset="0.925" stop-color="#c72f4c"/><stop offset="0.950" stop-color="#ba2048"/><stop offset="0.975" stop-color="#ac1045"/><stop offset="1.000" stop-color="#9e0142"/></linearGradient></defs>
<polyline points="51.70,463.80 55.07,464.37 59.28,465.07 64.22,465.89 69.78,466.81 75.85,467.83 82.32,468.92 89.08,470.07 96.02,471.28 103.03,472.53 110.00,473.80 117.17,475.15 124.77,476.61 132.72,478.16 140.92,479.78 149.27,481.44 157.68,483.11 166.05,484.76 174.29,486.38 182.31,487.94 190.00,489.40 197.42,490.79 204.70,492.15 211.86,493.47 218.91,494.76 225.88,496.02 232.77,497.26 239.61,498.48 246.42,499.67 253.21,500.84 260.00,502.00 267.06,503.18 274.51,504.39 282.17,505.61 289.86,506.82 297.38,507.99 304.54,509.09 311.18,510.11 317.09,511.02 322.09,511.79 326.00,512.40" fill="none" stroke="url(#gc)" stroke-width="5.2"/>
</g>
<rect x="51.70" y="374.30" width="272.60" height="273.30" fill="none" stroke="#707070" stroke-width="1"/>
<line x1="48.20" y1="647.60" x2="324.30" y2="647.60" stroke="#555" stroke-width="1"/>
<line x1="48.20" y1="647.48" x2="51.70" y2="647.48" stroke="#555" stroke-width="0.9"/>
<line x1="48.20" y1="631.43" x2="51.70" y2="631.43" stroke="#555" stroke-width="0.9"/>
<line x1="48.20" y1="620.05" x2="51.70" y2="620.05" stroke="#555" stroke-width="0.9"/>
<line x1="48.20" y1="611.22" x2="51.70" y2="611.22" stroke="#555" stroke-width="0.9"/>
<line x1="48.20" y1="604.01" x2="51.70" y2="604.01" stroke="#555" stroke-width="0.9"/>
<line x1="48.20" y1="597.91" x2="51.70" y2="597.91" stroke="#555" stroke-width="0.9"/>
<line x1="48.20" y1="592.63" x2="51.70" y2="592.63" stroke="#555" stroke-width="0.9"/>
<line x1="48.20" y1="587.97" x2="51.70" y2="587.97" stroke="#555" stroke-width="0.9"/>
<line x1="45.10" y1="583.80" x2="51.70" y2="583.80" stroke="#555" stroke-width="0.9"/>
<line x1="48.20" y1="556.38" x2="51.70" y2="556.38" stroke="#555" stroke-width="0.9"/>
<line x1="48.20" y1="540.33" x2="51.70" y2="540.33" stroke="#555" stroke-width="0.9"/>
<line x1="48.20" y1="528.95" x2="51.70" y2="528.95" stroke="#555" stroke-width="0.9"/>
<line x1="48.20" y1="520.12" x2="51.70" y2="520.12" stroke="#555" stroke-width="0.9"/>
<line x1="48.20" y1="512.91" x2="51.70" y2="512.91" stroke="#555" stroke-width="0.9"/>
<line x1="48.20" y1="506.81" x2="51.70" y2="506.81" stroke="#555" stroke-width="0.9"/>
<line x1="48.20" y1="501.53" x2="51.70" y2="501.53" stroke="#555" stroke-width="0.9"/>
<line x1="48.20" y1="496.87" x2="51.70" y2="496.87" stroke="#555" stroke-width="0.9"/>
<line x1="45.10" y1="492.70" x2="51.70" y2="492.70" stroke="#555" stroke-width="0.9"/>
<line x1="48.20" y1="465.28" x2="51.70" y2="465.28" stroke="#555" stroke-width="0.9"/>
<line x1="48.20" y1="449.23" x2="51.70" y2="449.23" stroke="#555" stroke-width="0.9"/>
<line x1="48.20" y1="437.85" x2="51.70" y2="437.85" stroke="#555" stroke-width="0.9"/>
<line x1="48.20" y1="429.02" x2="51.70" y2="429.02" stroke="#555" stroke-width="0.9"/>
<line x1="48.20" y1="421.81" x2="51.70" y2="421.81" stroke="#555" stroke-width="0.9"/>
<line x1="48.20" y1="415.71" x2="51.70" y2="415.71" stroke="#555" stroke-width="0.9"/>
<line x1="48.20" y1="410.43" x2="51.70" y2="410.43" stroke="#555" stroke-width="0.9"/>
<line x1="48.20" y1="405.77" x2="51.70" y2="405.77" stroke="#555" stroke-width="0.9"/>
<line x1="45.10" y1="401.60" x2="51.70" y2="401.60" stroke="#555" stroke-width="0.9"/>
<line x1="48.20" y1="374.18" x2="51.70" y2="374.18" stroke="#555" stroke-width="0.9"/>
<text x="40.60" y="405.20" font-size="10.00" text-anchor="end" font-weight="normal" font-style="normal" fill="#231f20">10</text>
<text x="40.60" y="496.30" font-size="10.00" text-anchor="end" font-weight="normal" font-style="normal" fill="#231f20">1</text>
<text x="40.60" y="587.40" font-size="10.00" text-anchor="end" font-weight="normal" font-style="normal" fill="#231f20">0.1</text>
<line x1="51.70" y1="647.60" x2="51.70" y2="653.60" stroke="#666" stroke-width="0.9"/>
<text x="51.70" y="667.30" font-size="10.00" text-anchor="middle" font-weight="normal" font-style="normal" fill="#231f20">0</text>
<line x1="115.30" y1="647.60" x2="115.30" y2="653.60" stroke="#666" stroke-width="0.9"/>
<text x="115.30" y="667.30" font-size="10.00" text-anchor="middle" font-weight="normal" font-style="normal" fill="#231f20">1</text>
<line x1="178.90" y1="647.60" x2="178.90" y2="653.60" stroke="#666" stroke-width="0.9"/>
<text x="178.90" y="667.30" font-size="10.00" text-anchor="middle" font-weight="normal" font-style="normal" fill="#231f20">2</text>
<line x1="242.50" y1="647.60" x2="242.50" y2="653.60" stroke="#666" stroke-width="0.9"/>
<text x="242.50" y="667.30" font-size="10.00" text-anchor="middle" font-weight="normal" font-style="normal" fill="#231f20">3</text>
<line x1="306.10" y1="647.60" x2="306.10" y2="653.60" stroke="#666" stroke-width="0.9"/>
<text x="306.10" y="667.30" font-size="10.00" text-anchor="middle" font-weight="normal" font-style="normal" fill="#231f20">4</text>
<clipPath id="cd"><rect x="412.20" y="374.40" width="272.20" height="272.90"/></clipPath>
<g clip-path="url(#cd)">
<polygon points="421.00,648.50 599.70,373.00 664.50,373.00 448.40,648.50" fill="#d4d4d4"/>
<line x1="430.5" y1="648" x2="626.5" y2="373.5" stroke="#8c8c8c" stroke-width="3.0" stroke-dasharray="18,4.5,2.5,4.46" stroke-dashoffset="0.76"/>
<ellipse cx="498.39" cy="585.86" rx="48.00" ry="21.00" transform="rotate(-35.00 498.39 585.86)" fill="#5e4fa2" fill-opacity="0.220" stroke="#5e4fa2" stroke-opacity="0.9" stroke-width="0.8"/>
<ellipse cx="506.18" cy="579.10" rx="41.00" ry="17.50" transform="rotate(-36.43 506.18 579.10)" fill="#545ca8" fill-opacity="0.216" stroke="#545ca8" stroke-opacity="0.9" stroke-width="0.8"/>
<ellipse cx="513.65" cy="572.19" rx="34.50" ry="14.50" transform="rotate(-37.86 513.65 572.19)" fill="#4a6aaf" fill-opacity="0.212" stroke="#4a6aaf" stroke-opacity="0.9" stroke-width="0.8"/>
<ellipse cx="521.12" cy="564.97" rx="29.00" ry="12.00" transform="rotate(-39.29 521.12 564.97)" fill="#3f77b5" fill-opacity="0.208" stroke="#3f77b5" stroke-opacity="0.9" stroke-width="0.8"/>
<ellipse cx="526.97" cy="559.02" rx="26.00" ry="11.00" transform="rotate(-40.71 526.97 559.02)" fill="#3584bb" fill-opacity="0.204" stroke="#3584bb" stroke-opacity="0.9" stroke-width="0.8"/>
<ellipse cx="533.11" cy="552.49" rx="23.00" ry="10.00" transform="rotate(-42.14 533.11 552.49)" fill="#3a91b9" fill-opacity="0.200" stroke="#3a91b9" stroke-opacity="0.9" stroke-width="0.8"/>
<ellipse cx="573.75" cy="488.65" rx="19.00" ry="11.00" transform="rotate(-56.50 573.75 488.65)" fill="#ebf79f" fill-opacity="0.216" stroke="#ebf79f" stroke-opacity="0.9" stroke-width="0.8"/>
<ellipse cx="538.73" cy="545.81" rx="21.25" ry="9.25" transform="rotate(-43.57 538.73 545.81)" fill="#479fb4" fill-opacity="0.200" stroke="#479fb4" stroke-opacity="0.9" stroke-width="0.8"/>
<ellipse cx="572.22" cy="491.69" rx="18.25" ry="10.38" transform="rotate(-56.12 572.22 491.69)" fill="#e3f499" fill-opacity="0.214" stroke="#e3f499" stroke-opacity="0.9" stroke-width="0.8"/>
<ellipse cx="570.62" cy="494.78" rx="17.50" ry="9.75" transform="rotate(-55.75 570.62 494.78)" fill="#d6ee9b" fill-opacity="0.212" stroke="#d6ee9b" stroke-opacity="0.9" stroke-width="0.8"/>
<ellipse cx="543.99" cy="538.99" rx="19.50" ry="8.50" transform="rotate(-45.00 543.99 538.99)" fill="#53acae" fill-opacity="0.200" stroke="#53acae" stroke-opacity="0.9" stroke-width="0.8"/>
<ellipse cx="568.86" cy="498.01" rx="16.75" ry="9.12" transform="rotate(-55.38 568.86 498.01)" fill="#c8e99e" fill-opacity="0.210" stroke="#c8e99e" stroke-opacity="0.9" stroke-width="0.8"/>
<ellipse cx="549.71" cy="531.02" rx="18.25" ry="8.00" transform="rotate(-46.43 549.71 531.02)" fill="#5fbaa8" fill-opacity="0.200" stroke="#5fbaa8" stroke-opacity="0.9" stroke-width="0.8"/>
<ellipse cx="566.98" cy="501.33" rx="16.00" ry="8.50" transform="rotate(-55.00 566.98 501.33)" fill="#bae3a1" fill-opacity="0.208" stroke="#bae3a1" stroke-opacity="0.9" stroke-width="0.8"/>
<ellipse cx="565.11" cy="504.64" rx="16.00" ry="8.17" transform="rotate(-53.57 565.11 504.64)" fill="#acdea4" fill-opacity="0.206" stroke="#acdea4" stroke-opacity="0.9" stroke-width="0.8"/>
<ellipse cx="555.35" cy="522.20" rx="17.00" ry="7.50" transform="rotate(-47.86 555.35 522.20)" fill="#6cc5a5" fill-opacity="0.200" stroke="#6cc5a5" stroke-opacity="0.9" stroke-width="0.8"/>
<ellipse cx="563.34" cy="507.79" rx="16.00" ry="7.83" transform="rotate(-52.14 563.34 507.79)" fill="#9dd7a4" fill-opacity="0.204" stroke="#9dd7a4" stroke-opacity="0.9" stroke-width="0.8"/>
<ellipse cx="558.48" cy="516.68" rx="16.50" ry="7.50" transform="rotate(-49.29 558.48 516.68)" fill="#7ccba5" fill-opacity="0.200" stroke="#7ccba5" stroke-opacity="0.9" stroke-width="0.8"/>
<ellipse cx="561.76" cy="510.67" rx="16.00" ry="7.50" transform="rotate(-50.71 561.76 510.67)" fill="#8dd1a4" fill-opacity="0.202" stroke="#8dd1a4" stroke-opacity="0.9" stroke-width="0.8"/>
<ellipse cx="574.89" cy="486.12" rx="20.75" ry="11.50" transform="rotate(-56.88 574.89 486.12)" fill="#f0f9a8" fill-opacity="0.218" stroke="#f0f9a8" stroke-opacity="0.9" stroke-width="0.8"/>
<ellipse cx="576.02" cy="483.50" rx="22.50" ry="12.00" transform="rotate(-57.25 576.02 483.50)" fill="#f6fcb1" fill-opacity="0.220" stroke="#f6fcb1" stroke-opacity="0.9" stroke-width="0.8"/>
<ellipse cx="577.19" cy="480.73" rx="24.25" ry="12.50" transform="rotate(-57.62 577.19 480.73)" fill="#fcfeba" fill-opacity="0.218" stroke="#fcfeba" stroke-opacity="0.9" stroke-width="0.8"/>
<ellipse cx="577.90" cy="478.88" rx="26.00" ry="13.00" transform="rotate(-58.00 577.90 478.88)" fill="#fffbb9" fill-opacity="0.216" stroke="#fffbb9" stroke-opacity="0.9" stroke-width="0.8"/>
<ellipse cx="579.02" cy="476.18" rx="27.00" ry="13.37" transform="rotate(-57.88 579.02 476.18)" fill="#fff4ad" fill-opacity="0.214" stroke="#fff4ad" stroke-opacity="0.9" stroke-width="0.8"/>
<ellipse cx="580.14" cy="473.42" rx="28.00" ry="13.75" transform="rotate(-57.75 580.14 473.42)" fill="#feeda1" fill-opacity="0.212" stroke="#feeda1" stroke-opacity="0.9" stroke-width="0.8"/>
<ellipse cx="581.27" cy="470.62" rx="29.00" ry="14.12" transform="rotate(-57.62 581.27 470.62)" fill="#fee695" fill-opacity="0.210" stroke="#fee695" stroke-opacity="0.9" stroke-width="0.8"/>
<ellipse cx="582.42" cy="467.78" rx="30.00" ry="14.50" transform="rotate(-57.50 582.42 467.78)" fill="#fede89" fill-opacity="0.208" stroke="#fede89" stroke-opacity="0.9" stroke-width="0.8"/>
<ellipse cx="583.60" cy="464.93" rx="30.75" ry="14.87" transform="rotate(-57.38 583.60 464.93)" fill="#fed27f" fill-opacity="0.206" stroke="#fed27f" stroke-opacity="0.9" stroke-width="0.8"/>
<ellipse cx="584.83" cy="462.09" rx="31.50" ry="15.25" transform="rotate(-57.25 584.83 462.09)" fill="#fdc676" fill-opacity="0.204" stroke="#fdc676" stroke-opacity="0.9" stroke-width="0.8"/>
<ellipse cx="585.41" cy="460.77" rx="32.25" ry="15.62" transform="rotate(-57.12 585.41 460.77)" fill="#fdbb6c" fill-opacity="0.202" stroke="#fdbb6c" stroke-opacity="0.9" stroke-width="0.8"/>
<ellipse cx="586.03" cy="459.37" rx="33.00" ry="16.00" transform="rotate(-57.00 586.03 459.37)" fill="#fdaf62" fill-opacity="0.200" stroke="#fdaf62" stroke-opacity="0.9" stroke-width="0.8"/>
<ellipse cx="589.49" cy="453.63" rx="33.00" ry="18.50" transform="rotate(-56.54 589.49 453.63)" fill="#fba05b" fill-opacity="0.200" stroke="#fba05b" stroke-opacity="0.9" stroke-width="0.8"/>
<ellipse cx="598.00" cy="440.00" rx="44.50" ry="24.80" transform="rotate(-51.00 598.00 440.00)" fill="#9e0142" fill-opacity="0.280" stroke="#9e0142" stroke-opacity="0.9" stroke-width="0.8"/>
<ellipse cx="597.37" cy="440.78" rx="43.50" ry="24.27" transform="rotate(-51.00 597.37 440.78)" fill="#ab0f45" fill-opacity="0.270" stroke="#ab0f45" stroke-opacity="0.9" stroke-width="0.8"/>
<ellipse cx="596.74" cy="441.55" rx="42.50" ry="23.73" transform="rotate(-51.00 596.74 441.55)" fill="#b81d48" fill-opacity="0.260" stroke="#b81d48" stroke-opacity="0.9" stroke-width="0.8"/>
<ellipse cx="596.11" cy="442.33" rx="41.50" ry="23.20" transform="rotate(-51.00 596.11 442.33)" fill="#c42c4b" fill-opacity="0.250" stroke="#c42c4b" stroke-opacity="0.9" stroke-width="0.8"/>
<ellipse cx="595.48" cy="443.11" rx="40.50" ry="22.66" transform="rotate(-51.00 595.48 443.11)" fill="#d13a4e" fill-opacity="0.240" stroke="#d13a4e" stroke-opacity="0.9" stroke-width="0.8"/>
<ellipse cx="594.85" cy="443.89" rx="39.50" ry="22.12" transform="rotate(-51.00 594.85 443.89)" fill="#da464d" fill-opacity="0.230" stroke="#da464d" stroke-opacity="0.9" stroke-width="0.8"/>
<ellipse cx="594.22" cy="444.66" rx="38.50" ry="21.58" transform="rotate(-51.00 594.22 444.66)" fill="#e1514a" fill-opacity="0.220" stroke="#e1514a" stroke-opacity="0.9" stroke-width="0.8"/>
<ellipse cx="593.59" cy="445.44" rx="37.50" ry="21.04" transform="rotate(-51.00 593.59 445.44)" fill="#e85c47" fill-opacity="0.210" stroke="#e85c47" stroke-opacity="0.9" stroke-width="0.8"/>
<ellipse cx="592.97" cy="446.22" rx="36.50" ry="20.50" transform="rotate(-51.00 592.97 446.22)" fill="#f06645" fill-opacity="0.200" stroke="#f06645" stroke-opacity="0.9" stroke-width="0.8"/>
<ellipse cx="592.41" cy="446.90" rx="35.62" ry="20.00" transform="rotate(-51.00 592.41 446.90)" fill="#f57346" fill-opacity="0.200" stroke="#f57346" stroke-opacity="0.9" stroke-width="0.8"/>
<ellipse cx="591.86" cy="447.58" rx="34.75" ry="19.50" transform="rotate(-51.00 591.86 447.58)" fill="#f7824d" fill-opacity="0.200" stroke="#f7824d" stroke-opacity="0.9" stroke-width="0.8"/>
<ellipse cx="591.31" cy="448.26" rx="33.88" ry="19.00" transform="rotate(-51.00 591.31 448.26)" fill="#f99154" fill-opacity="0.200" stroke="#f99154" stroke-opacity="0.9" stroke-width="0.8"/>
<ellipse cx="598.00" cy="440.00" rx="44.20" ry="24.50" transform="rotate(-51.00 598.00 440.00)" fill="none" stroke="#a8124c" stroke-width="1.3"/>
<line x1="377.97" y1="596.75" x2="719.05" y2="254.75" stroke="#000" stroke-width="1.3" stroke-dasharray="3.6,2.2"/>
<line x1="377.97" y1="682.25" x2="719.05" y2="340.25" stroke="#000" stroke-width="1.3" stroke-dasharray="3.6,2.2"/>
<line x1="377.97" y1="767.75" x2="719.05" y2="425.75" stroke="#000" stroke-width="1.3" stroke-dasharray="3.6,2.2"/>
<polyline points="490.20,591.60 490.71,591.18 491.34,590.67 492.07,590.08 492.89,589.42 493.78,588.70 494.74,587.92 495.74,587.10 496.79,586.24 497.86,585.36 498.94,584.45 500.03,583.53 501.10,582.60 502.19,581.65 503.32,580.66 504.49,579.63 505.69,578.56 506.92,577.47 508.17,576.35 509.43,575.21 510.70,574.06 511.96,572.90 513.22,571.73 514.47,570.56 515.70,569.40 516.92,568.24 518.15,567.06 519.39,565.88 520.62,564.69 521.86,563.49 523.09,562.27 524.32,561.05 525.54,559.82 526.76,558.58 527.95,557.33 529.14,556.07 530.30,554.80 531.46,553.51 532.61,552.19 533.76,550.85 534.91,549.50 536.04,548.13 537.16,546.76 538.27,545.40 539.35,544.04 540.41,542.69 541.44,541.37 542.44,540.07 543.40,538.80 544.33,537.56 545.23,536.33 546.10,535.11 546.95,533.91 547.77,532.73 548.58,531.56 549.35,530.40 550.11,529.25 550.86,528.12 551.59,527.00 552.30,525.89 553.00,524.80 553.67,523.74 554.29,522.73 554.88,521.76 555.44,520.82 555.98,519.89 556.52,518.96 557.06,518.01 557.60,517.05 558.17,516.05 558.77,515.00 559.41,513.88 560.10,512.70 560.84,511.44 561.63,510.12 562.45,508.74 563.30,507.31 564.17,505.86 565.06,504.37 565.95,502.86 566.83,501.35 567.71,499.84 568.57,498.34 569.40,496.85 570.20,495.40 570.97,493.97 571.72,492.56 572.46,491.16 573.18,489.77 573.89,488.37 574.59,486.97 575.29,485.57 575.99,484.14 576.69,482.70 577.38,481.23 578.09,479.73 578.80,478.20 579.51,476.63 580.22,475.03 580.91,473.40 581.61,471.74 582.31,470.07 583.01,468.38 583.71,466.68 584.42,464.97 585.14,463.25 585.88,461.53 586.63,459.81 587.40,458.10 588.22,456.32 589.11,454.42 590.06,452.44 591.03,450.42 592.01,448.39 592.99,446.39 593.93,444.47 594.83,442.65 595.65,440.97 596.38,439.48 597.01,438.21 597.50,437.20" fill="none" stroke="#000" stroke-width="7.0" stroke-linecap="round" stroke-linejoin="round"/>
<line x1="490.20" y1="591.60" x2="491.10" y2="590.86" stroke="#5d50a2" stroke-width="4.4" stroke-linecap="round"/>
<line x1="490.71" y1="591.18" x2="491.73" y2="590.35" stroke="#5c51a3" stroke-width="4.4" stroke-linecap="butt"/>
<line x1="491.34" y1="590.67" x2="492.46" y2="589.77" stroke="#5b52a4" stroke-width="4.4" stroke-linecap="butt"/>
<line x1="492.07" y1="590.08" x2="493.28" y2="589.11" stroke="#5a54a4" stroke-width="4.4" stroke-linecap="butt"/>
<line x1="492.89" y1="589.42" x2="494.17" y2="588.39" stroke="#5955a5" stroke-width="4.4" stroke-linecap="butt"/>
<line x1="493.78" y1="588.70" x2="495.13" y2="587.61" stroke="#5856a5" stroke-width="4.4" stroke-linecap="butt"/>
<line x1="494.74" y1="587.92" x2="496.13" y2="586.79" stroke="#5758a6" stroke-width="4.4" stroke-linecap="butt"/>
<line x1="495.74" y1="587.10" x2="497.18" y2="585.93" stroke="#5659a7" stroke-width="4.4" stroke-linecap="butt"/>
<line x1="496.79" y1="586.24" x2="498.24" y2="585.04" stroke="#555aa7" stroke-width="4.4" stroke-linecap="butt"/>
<line x1="497.86" y1="585.36" x2="499.33" y2="584.13" stroke="#545ca8" stroke-width="4.4" stroke-linecap="butt"/>
<line x1="498.94" y1="584.45" x2="500.41" y2="583.20" stroke="#535da9" stroke-width="4.4" stroke-linecap="butt"/>
<line x1="500.03" y1="583.53" x2="501.48" y2="582.27" stroke="#525ea9" stroke-width="4.4" stroke-linecap="butt"/>
<line x1="501.10" y1="582.60" x2="502.56" y2="581.32" stroke="#5160aa" stroke-width="4.4" stroke-linecap="butt"/>
<line x1="502.19" y1="581.65" x2="503.70" y2="580.33" stroke="#4f62ab" stroke-width="4.4" stroke-linecap="butt"/>
<line x1="503.32" y1="580.66" x2="504.87" y2="579.30" stroke="#4e64ac" stroke-width="4.4" stroke-linecap="butt"/>
<line x1="504.49" y1="579.63" x2="506.07" y2="578.23" stroke="#4c66ad" stroke-width="4.4" stroke-linecap="butt"/>
<line x1="505.69" y1="578.56" x2="507.29" y2="577.14" stroke="#4b68ae" stroke-width="4.4" stroke-linecap="butt"/>
<line x1="506.92" y1="577.47" x2="508.54" y2="576.02" stroke="#496aaf" stroke-width="4.4" stroke-linecap="butt"/>
<line x1="508.17" y1="576.35" x2="509.80" y2="574.88" stroke="#486cb0" stroke-width="4.4" stroke-linecap="butt"/>
<line x1="509.43" y1="575.21" x2="511.07" y2="573.72" stroke="#466eb1" stroke-width="4.4" stroke-linecap="butt"/>
<line x1="510.70" y1="574.06" x2="512.33" y2="572.56" stroke="#4570b2" stroke-width="4.4" stroke-linecap="butt"/>
<line x1="511.96" y1="572.90" x2="513.59" y2="571.39" stroke="#4372b2" stroke-width="4.4" stroke-linecap="butt"/>
<line x1="513.22" y1="571.73" x2="514.84" y2="570.22" stroke="#4274b3" stroke-width="4.4" stroke-linecap="butt"/>
<line x1="514.47" y1="570.56" x2="516.06" y2="569.06" stroke="#4076b4" stroke-width="4.4" stroke-linecap="butt"/>
<line x1="515.70" y1="569.40" x2="517.28" y2="567.89" stroke="#3e78b5" stroke-width="4.4" stroke-linecap="butt"/>
<line x1="516.92" y1="568.24" x2="518.51" y2="566.72" stroke="#3c7ab7" stroke-width="4.4" stroke-linecap="butt"/>
<line x1="518.15" y1="567.06" x2="519.75" y2="565.54" stroke="#3b7db8" stroke-width="4.4" stroke-linecap="butt"/>
<line x1="519.39" y1="565.88" x2="520.98" y2="564.34" stroke="#397fb9" stroke-width="4.4" stroke-linecap="butt"/>
<line x1="520.62" y1="564.69" x2="522.22" y2="563.14" stroke="#3782ba" stroke-width="4.4" stroke-linecap="butt"/>
<line x1="521.86" y1="563.49" x2="523.45" y2="561.92" stroke="#3584bb" stroke-width="4.4" stroke-linecap="butt"/>
<line x1="523.09" y1="562.27" x2="524.68" y2="560.70" stroke="#3387bc" stroke-width="4.4" stroke-linecap="butt"/>
<line x1="524.32" y1="561.05" x2="525.90" y2="559.47" stroke="#3389bd" stroke-width="4.4" stroke-linecap="butt"/>
<line x1="525.54" y1="559.82" x2="527.10" y2="558.22" stroke="#358bbc" stroke-width="4.4" stroke-linecap="butt"/>
<line x1="526.76" y1="558.58" x2="528.30" y2="556.97" stroke="#378ebb" stroke-width="4.4" stroke-linecap="butt"/>
<line x1="527.95" y1="557.33" x2="529.48" y2="555.71" stroke="#3a90ba" stroke-width="4.4" stroke-linecap="butt"/>
<line x1="529.14" y1="556.07" x2="530.64" y2="554.43" stroke="#3c93b8" stroke-width="4.4" stroke-linecap="butt"/>
<line x1="530.30" y1="554.80" x2="531.79" y2="553.14" stroke="#3e95b7" stroke-width="4.4" stroke-linecap="butt"/>
<line x1="531.46" y1="553.51" x2="532.94" y2="551.82" stroke="#4098b6" stroke-width="4.4" stroke-linecap="butt"/>
<line x1="532.61" y1="552.19" x2="534.09" y2="550.47" stroke="#439bb5" stroke-width="4.4" stroke-linecap="butt"/>
<line x1="533.76" y1="550.85" x2="535.23" y2="549.11" stroke="#459db4" stroke-width="4.4" stroke-linecap="butt"/>
<line x1="534.91" y1="549.50" x2="536.36" y2="547.75" stroke="#47a0b3" stroke-width="4.4" stroke-linecap="butt"/>
<line x1="536.04" y1="548.13" x2="537.48" y2="546.38" stroke="#4aa2b2" stroke-width="4.4" stroke-linecap="butt"/>
<line x1="537.16" y1="546.76" x2="538.58" y2="545.01" stroke="#4ca5b1" stroke-width="4.4" stroke-linecap="butt"/>
<line x1="538.27" y1="545.40" x2="539.66" y2="543.65" stroke="#4ea8b0" stroke-width="4.4" stroke-linecap="butt"/>
<line x1="539.35" y1="544.04" x2="540.72" y2="542.30" stroke="#51aaaf" stroke-width="4.4" stroke-linecap="butt"/>
<line x1="540.41" y1="542.69" x2="541.74" y2="540.97" stroke="#53adae" stroke-width="4.4" stroke-linecap="butt"/>
<line x1="541.44" y1="541.37" x2="542.74" y2="539.67" stroke="#55afad" stroke-width="4.4" stroke-linecap="butt"/>
<line x1="542.44" y1="540.07" x2="543.70" y2="538.40" stroke="#58b2ac" stroke-width="4.4" stroke-linecap="butt"/>
<line x1="543.40" y1="538.80" x2="544.63" y2="537.16" stroke="#59b4ab" stroke-width="4.4" stroke-linecap="butt"/>
<line x1="544.33" y1="537.56" x2="545.53" y2="535.93" stroke="#5bb6aa" stroke-width="4.4" stroke-linecap="butt"/>
<line x1="545.23" y1="536.33" x2="546.40" y2="534.71" stroke="#5cb7a9" stroke-width="4.4" stroke-linecap="butt"/>
<line x1="546.10" y1="535.11" x2="547.24" y2="533.51" stroke="#5eb9a9" stroke-width="4.4" stroke-linecap="butt"/>
<line x1="546.95" y1="533.91" x2="548.06" y2="532.32" stroke="#60bba8" stroke-width="4.4" stroke-linecap="butt"/>
<line x1="547.77" y1="532.73" x2="548.86" y2="531.14" stroke="#61bca7" stroke-width="4.4" stroke-linecap="butt"/>
<line x1="548.58" y1="531.56" x2="549.63" y2="529.98" stroke="#63bea7" stroke-width="4.4" stroke-linecap="butt"/>
<line x1="549.35" y1="530.40" x2="550.39" y2="528.84" stroke="#64c0a6" stroke-width="4.4" stroke-linecap="butt"/>
<line x1="550.11" y1="529.25" x2="551.13" y2="527.70" stroke="#66c1a5" stroke-width="4.4" stroke-linecap="butt"/>
<line x1="550.86" y1="528.12" x2="551.86" y2="526.58" stroke="#67c3a5" stroke-width="4.4" stroke-linecap="butt"/>
<line x1="551.59" y1="527.00" x2="552.57" y2="525.47" stroke="#69c3a5" stroke-width="4.4" stroke-linecap="butt"/>
<line x1="552.30" y1="525.89" x2="553.27" y2="524.38" stroke="#6bc4a5" stroke-width="4.4" stroke-linecap="butt"/>
<line x1="553.00" y1="524.80" x2="553.94" y2="523.32" stroke="#6ec5a5" stroke-width="4.4" stroke-linecap="butt"/>
<line x1="553.67" y1="523.74" x2="554.56" y2="522.31" stroke="#70c6a5" stroke-width="4.4" stroke-linecap="butt"/>
<line x1="554.29" y1="522.73" x2="555.14" y2="521.34" stroke="#73c7a5" stroke-width="4.4" stroke-linecap="butt"/>
<line x1="554.88" y1="521.76" x2="555.70" y2="520.39" stroke="#76c8a5" stroke-width="4.4" stroke-linecap="butt"/>
<line x1="555.44" y1="520.82" x2="556.24" y2="519.45" stroke="#78c9a5" stroke-width="4.4" stroke-linecap="butt"/>
<line x1="555.98" y1="519.89" x2="556.77" y2="518.52" stroke="#7bcaa5" stroke-width="4.4" stroke-linecap="butt"/>
<line x1="556.52" y1="518.96" x2="557.30" y2="517.58" stroke="#7ecba5" stroke-width="4.4" stroke-linecap="butt"/>
<line x1="557.06" y1="518.01" x2="557.85" y2="516.61" stroke="#80cca5" stroke-width="4.4" stroke-linecap="butt"/>
<line x1="557.60" y1="517.05" x2="558.42" y2="515.61" stroke="#83cda5" stroke-width="4.4" stroke-linecap="butt"/>
<line x1="558.17" y1="516.05" x2="559.02" y2="514.56" stroke="#86cea5" stroke-width="4.4" stroke-linecap="butt"/>
<line x1="558.77" y1="515.00" x2="559.66" y2="513.45" stroke="#89d0a4" stroke-width="4.4" stroke-linecap="butt"/>
<line x1="559.41" y1="513.88" x2="560.35" y2="512.27" stroke="#8bd1a4" stroke-width="4.4" stroke-linecap="butt"/>
<line x1="560.10" y1="512.70" x2="561.09" y2="511.01" stroke="#90d2a4" stroke-width="4.4" stroke-linecap="butt"/>
<line x1="560.84" y1="511.44" x2="561.88" y2="509.69" stroke="#97d5a4" stroke-width="4.4" stroke-linecap="butt"/>
<line x1="561.63" y1="510.12" x2="562.71" y2="508.31" stroke="#9dd8a4" stroke-width="4.4" stroke-linecap="butt"/>
<line x1="562.45" y1="508.74" x2="563.56" y2="506.89" stroke="#a4daa4" stroke-width="4.4" stroke-linecap="butt"/>
<line x1="563.30" y1="507.31" x2="564.43" y2="505.43" stroke="#abdda4" stroke-width="4.4" stroke-linecap="butt"/>
<line x1="564.17" y1="505.86" x2="565.31" y2="503.94" stroke="#b0dfa3" stroke-width="4.4" stroke-linecap="butt"/>
<line x1="565.06" y1="504.37" x2="566.20" y2="502.43" stroke="#b6e2a2" stroke-width="4.4" stroke-linecap="butt"/>
<line x1="565.95" y1="502.86" x2="567.09" y2="500.92" stroke="#bce4a1" stroke-width="4.4" stroke-linecap="butt"/>
<line x1="566.83" y1="501.35" x2="567.96" y2="499.41" stroke="#c2e69f" stroke-width="4.4" stroke-linecap="butt"/>
<line x1="567.71" y1="499.84" x2="568.82" y2="497.90" stroke="#c7e89e" stroke-width="4.4" stroke-linecap="butt"/>
<line x1="568.57" y1="498.34" x2="569.65" y2="496.42" stroke="#cdeb9d" stroke-width="4.4" stroke-linecap="butt"/>
<line x1="569.40" y1="496.85" x2="570.44" y2="494.96" stroke="#d3ed9c" stroke-width="4.4" stroke-linecap="butt"/>
<line x1="570.20" y1="495.40" x2="571.21" y2="493.53" stroke="#d8ef9b" stroke-width="4.4" stroke-linecap="butt"/>
<line x1="570.97" y1="493.97" x2="571.96" y2="492.12" stroke="#def29a" stroke-width="4.4" stroke-linecap="butt"/>
<line x1="571.72" y1="492.56" x2="572.69" y2="490.72" stroke="#e4f498" stroke-width="4.4" stroke-linecap="butt"/>
<line x1="572.46" y1="491.16" x2="573.41" y2="489.32" stroke="#e8f69a" stroke-width="4.4" stroke-linecap="butt"/>
<line x1="573.18" y1="489.77" x2="574.12" y2="487.93" stroke="#eaf79e" stroke-width="4.4" stroke-linecap="butt"/>
<line x1="573.89" y1="488.37" x2="574.82" y2="486.53" stroke="#ecf8a2" stroke-width="4.4" stroke-linecap="butt"/>
<line x1="574.59" y1="486.97" x2="575.51" y2="485.12" stroke="#eff9a6" stroke-width="4.4" stroke-linecap="butt"/>
<line x1="575.29" y1="485.57" x2="576.21" y2="483.70" stroke="#f1f9a9" stroke-width="4.4" stroke-linecap="butt"/>
<line x1="575.99" y1="484.14" x2="576.90" y2="482.25" stroke="#f4faad" stroke-width="4.4" stroke-linecap="butt"/>
<line x1="576.69" y1="482.70" x2="577.60" y2="480.78" stroke="#f6fbb1" stroke-width="4.4" stroke-linecap="butt"/>
<line x1="577.38" y1="481.23" x2="578.30" y2="479.28" stroke="#f8fcb5" stroke-width="4.4" stroke-linecap="butt"/>
<line x1="578.09" y1="479.73" x2="579.01" y2="477.75" stroke="#fbfdb9" stroke-width="4.4" stroke-linecap="butt"/>
<line x1="578.80" y1="478.20" x2="579.72" y2="476.17" stroke="#feffbd" stroke-width="4.4" stroke-linecap="butt"/>
<line x1="579.51" y1="476.63" x2="580.42" y2="474.57" stroke="#fffcba" stroke-width="4.4" stroke-linecap="butt"/>
<line x1="580.22" y1="475.03" x2="581.11" y2="472.94" stroke="#fff8b3" stroke-width="4.4" stroke-linecap="butt"/>
<line x1="580.91" y1="473.40" x2="581.81" y2="471.28" stroke="#fff4ac" stroke-width="4.4" stroke-linecap="butt"/>
<line x1="581.61" y1="471.74" x2="582.50" y2="469.61" stroke="#fff0a5" stroke-width="4.4" stroke-linecap="butt"/>
<line x1="582.31" y1="470.07" x2="583.20" y2="467.92" stroke="#feeb9e" stroke-width="4.4" stroke-linecap="butt"/>
<line x1="583.01" y1="468.38" x2="583.90" y2="466.22" stroke="#fee797" stroke-width="4.4" stroke-linecap="butt"/>
<line x1="583.71" y1="466.68" x2="584.61" y2="464.50" stroke="#fee390" stroke-width="4.4" stroke-linecap="butt"/>
<line x1="584.42" y1="464.97" x2="585.34" y2="462.79" stroke="#fede89" stroke-width="4.4" stroke-linecap="butt"/>
<line x1="585.14" y1="463.25" x2="586.08" y2="461.07" stroke="#fed784" stroke-width="4.4" stroke-linecap="butt"/>
<line x1="585.88" y1="461.53" x2="586.83" y2="459.35" stroke="#fed17e" stroke-width="4.4" stroke-linecap="butt"/>
<line x1="586.63" y1="459.81" x2="587.60" y2="457.64" stroke="#feca78" stroke-width="4.4" stroke-linecap="butt"/>
<line x1="587.40" y1="458.10" x2="588.43" y2="455.87" stroke="#fdbf6f" stroke-width="4.4" stroke-linecap="butt"/>
<line x1="588.22" y1="456.32" x2="589.33" y2="453.97" stroke="#fdb163" stroke-width="4.4" stroke-linecap="butt"/>
<line x1="589.11" y1="454.42" x2="590.27" y2="451.99" stroke="#fb9f5a" stroke-width="4.4" stroke-linecap="butt"/>
<line x1="590.06" y1="452.44" x2="591.25" y2="449.97" stroke="#f88c51" stroke-width="4.4" stroke-linecap="butt"/>
<line x1="591.03" y1="450.42" x2="592.23" y2="447.94" stroke="#f67948" stroke-width="4.4" stroke-linecap="butt"/>
<line x1="592.01" y1="448.39" x2="593.21" y2="445.94" stroke="#f16844" stroke-width="4.4" stroke-linecap="butt"/>
<line x1="592.99" y1="446.39" x2="594.15" y2="444.02" stroke="#e85a48" stroke-width="4.4" stroke-linecap="butt"/>
<line x1="593.93" y1="444.47" x2="595.05" y2="442.20" stroke="#df4c4b" stroke-width="4.4" stroke-linecap="butt"/>
<line x1="594.83" y1="442.65" x2="595.87" y2="440.53" stroke="#d63f4f" stroke-width="4.4" stroke-linecap="butt"/>
<line x1="595.65" y1="440.97" x2="596.60" y2="439.03" stroke="#c62d4b" stroke-width="4.4" stroke-linecap="butt"/>
<line x1="596.38" y1="439.48" x2="597.23" y2="437.76" stroke="#b61c48" stroke-width="4.4" stroke-linecap="butt"/>
<line x1="597.01" y1="438.21" x2="597.72" y2="436.75" stroke="#a60a44" stroke-width="4.4" stroke-linecap="round"/>
</g>
<rect x="412.20" y="374.40" width="272.20" height="272.90" fill="none" stroke="#707070" stroke-width="1"/>
<line x1="412.20" y1="647.30" x2="684.40" y2="647.30" stroke="#555" stroke-width="1"/>
<line x1="406.00" y1="383.00" x2="412.20" y2="383.00" stroke="#555" stroke-width="0.9"/>
<line x1="406.00" y1="468.50" x2="412.20" y2="468.50" stroke="#555" stroke-width="0.9"/>
<line x1="406.00" y1="554.00" x2="412.20" y2="554.00" stroke="#555" stroke-width="0.9"/>
<line x1="406.00" y1="639.50" x2="412.20" y2="639.50" stroke="#555" stroke-width="0.9"/>
<text x="400.80" y="386.60" font-size="10.00" text-anchor="end" font-weight="normal" font-style="normal" fill="#231f20">1</text>
<text x="400.80" y="472.10" font-size="10.00" text-anchor="end" font-weight="normal" font-style="normal" fill="#231f20">0</text>
<text x="400.80" y="557.60" font-size="10.00" text-anchor="end" font-weight="normal" font-style="normal" fill="#231f20">&#8722;1</text>
<text x="400.80" y="643.10" font-size="10.00" text-anchor="end" font-weight="normal" font-style="normal" fill="#231f20">&#8722;2</text>
<line x1="420.60" y1="647.30" x2="420.60" y2="653.30" stroke="#666" stroke-width="0.9"/>
<text x="420.60" y="667.30" font-size="10.00" text-anchor="middle" font-weight="normal" font-style="normal" fill="#231f20">1.0</text>
<line x1="463.24" y1="647.30" x2="463.24" y2="653.30" stroke="#666" stroke-width="0.9"/>
<text x="463.24" y="667.30" font-size="10.00" text-anchor="middle" font-weight="normal" font-style="normal" fill="#231f20">1.5</text>
<line x1="505.87" y1="647.30" x2="505.87" y2="653.30" stroke="#666" stroke-width="0.9"/>
<text x="505.87" y="667.30" font-size="10.00" text-anchor="middle" font-weight="normal" font-style="normal" fill="#231f20">2.0</text>
<line x1="548.50" y1="647.30" x2="548.50" y2="653.30" stroke="#666" stroke-width="0.9"/>
<text x="548.50" y="667.30" font-size="10.00" text-anchor="middle" font-weight="normal" font-style="normal" fill="#231f20">2.5</text>
<line x1="591.14" y1="647.30" x2="591.14" y2="653.30" stroke="#666" stroke-width="0.9"/>
<text x="591.14" y="667.30" font-size="10.00" text-anchor="middle" font-weight="normal" font-style="normal" fill="#231f20">3.0</text>
<line x1="633.77" y1="647.30" x2="633.77" y2="653.30" stroke="#666" stroke-width="0.9"/>
<text x="633.77" y="667.30" font-size="10.00" text-anchor="middle" font-weight="normal" font-style="normal" fill="#231f20">3.5</text>
<line x1="676.41" y1="647.30" x2="676.41" y2="653.30" stroke="#666" stroke-width="0.9"/>
<text x="676.41" y="667.30" font-size="10.00" text-anchor="middle" font-weight="normal" font-style="normal" fill="#231f20">4.0</text>
<defs><linearGradient id="cbar" x1="0" x2="1" y1="0" y2="0"><stop offset="0.000" stop-color="#5e4fa2"/><stop offset="0.050" stop-color="#486cb0"/><stop offset="0.100" stop-color="#3288bd"/><stop offset="0.150" stop-color="#4ca5b1"/><stop offset="0.200" stop-color="#66c2a5"/><stop offset="0.250" stop-color="#88d0a4"/><stop offset="0.300" stop-color="#abdda4"/><stop offset="0.350" stop-color="#c8e99e"/><stop offset="0.400" stop-color="#e6f598"/><stop offset="0.450" stop-color="#f2faac"/><stop offset="0.500" stop-color="#ffffbf"/><stop offset="0.550" stop-color="#fef0a5"/><stop offset="0.600" stop-color="#fee08b"/><stop offset="0.650" stop-color="#fec776"/><stop offset="0.700" stop-color="#fdae61"/><stop offset="0.750" stop-color="#f88e52"/><stop offset="0.800" stop-color="#f46d43"/><stop offset="0.850" stop-color="#e45649"/><stop offset="0.900" stop-color="#d53e4f"/><stop offset="0.950" stop-color="#ba2048"/><stop offset="1.000" stop-color="#9e0142"/></linearGradient></defs>
<rect x="560.6" y="629.2" width="115.0" height="8.7" fill="url(#cbar)" stroke="#6a6a6a" stroke-width="0.8"/>
<line x1="560.80" y1="623.8" x2="560.80" y2="629.2" stroke="#555" stroke-width="0.9"/>
<text x="560.80" y="617.60" font-size="10.00" text-anchor="middle" font-weight="normal" font-style="normal" fill="#231f20">0</text>
<line x1="587.40" y1="623.8" x2="587.40" y2="629.2" stroke="#555" stroke-width="0.9"/>
<text x="587.40" y="617.60" font-size="10.00" text-anchor="middle" font-weight="normal" font-style="normal" fill="#231f20">1</text>
<line x1="614.00" y1="623.8" x2="614.00" y2="629.2" stroke="#555" stroke-width="0.9"/>
<text x="614.00" y="617.60" font-size="10.00" text-anchor="middle" font-weight="normal" font-style="normal" fill="#231f20">2</text>
<line x1="640.60" y1="623.8" x2="640.60" y2="629.2" stroke="#555" stroke-width="0.9"/>
<text x="640.60" y="617.60" font-size="10.00" text-anchor="middle" font-weight="normal" font-style="normal" fill="#231f20">3</text>
<line x1="667.20" y1="623.8" x2="667.20" y2="629.2" stroke="#555" stroke-width="0.9"/>
<text x="667.20" y="617.60" font-size="10.00" text-anchor="middle" font-weight="normal" font-style="normal" fill="#231f20">4</text>
<text x="617.30" y="601.80" font-size="12.00" text-anchor="middle" font-weight="normal" font-style="italic" fill="#231f20">z</text>
<text x="-0.60" y="12.70" font-size="18.00" text-anchor="start" font-weight="bold" font-style="normal" fill="#000" stroke="#000" stroke-width="0.35">a</text>
<text x="362.20" y="12.70" font-size="18.00" text-anchor="start" font-weight="bold" font-style="normal" fill="#000" stroke="#000" stroke-width="0.35">b</text>
<text x="-0.40" y="368.90" font-size="18.00" text-anchor="start" font-weight="bold" font-style="normal" fill="#000" stroke="#000" stroke-width="0.35">c</text>
<text x="362.20" y="368.40" font-size="18.00" text-anchor="start" font-weight="bold" font-style="normal" fill="#000" stroke="#000" stroke-width="0.35">d</text>
<text x="62.60" y="37.10" font-size="12.00" text-anchor="start" font-weight="normal" font-style="normal" fill="#231f20" textLength="112.90" lengthAdjust="spacingAndGlyphs">CO excitation ladder</text>
<text x="422.40" y="37.10" font-size="12.00" text-anchor="start" font-weight="normal" font-style="normal" fill="#231f20" textLength="166.00" lengthAdjust="spacingAndGlyphs">Star-formation surface density</text>
<text x="62.90" y="393.20" font-size="12.00" text-anchor="start" font-weight="normal" font-style="normal" fill="#231f20" textLength="241.00" lengthAdjust="spacingAndGlyphs">Depletion time and star-formation efficiency</text>
<text x="422.40" y="393.40" font-size="12.00" text-anchor="start" font-weight="normal" font-style="normal" fill="#231f20" textLength="101.20" lengthAdjust="spacingAndGlyphs">Star-formation law</text>
<text transform="translate(9.8 181) rotate(-90)" font-size="12" fill="#231f20"><tspan font-style="italic">I</tspan><tspan font-size="8.5" dy="3">CO</tspan><tspan dy="-3">/</tspan><tspan font-style="italic">I</tspan><tspan font-size="8.5" dy="3">CO 1&#8211;0</tspan></text>
<text x="180.0" y="331.8" font-size="12" fill="#231f20"><tspan font-style="italic">J</tspan><tspan font-size="8.5" dy="2.4">up</tspan></text>
<text transform="translate(236.4 49.9) rotate(-13)" font-size="12" fill="#231f20">Thermal = <tspan font-style="italic">J</tspan><tspan font-size="8" dy="-5">2</tspan></text>
<text transform="translate(294.4 147.0) rotate(21)" font-size="11.2" fill="#231f20"><tspan font-style="italic">z</tspan> = 4</text>
<text transform="translate(295.2 183.6) rotate(25)" font-size="11.2" fill="#231f20"><tspan font-style="italic">z</tspan> = 2</text>
<text transform="translate(247.8 186.0) rotate(37)" font-size="12" fill="#231f20">Cosmic</text>
<text transform="translate(295.8 225.2) rotate(29)" font-size="11.2" fill="#231f20"><tspan font-style="italic">z</tspan> = 1</text>
<text transform="translate(240.2 255.5) rotate(55)" font-size="11.2" fill="#231f20"><tspan font-style="italic">z</tspan> = 0</text>
<text transform="translate(377 217.6) rotate(-90)" font-size="12" fill="#231f20">log <tspan font-style="italic">&#931;</tspan><tspan font-size="7" dy="2.5">SFR</tspan><tspan dy="-2.5"> (</tspan><tspan font-style="italic">M</tspan><tspan font-size="8" dy="2.5">&#8857;</tspan><tspan dy="-2.5"> yr</tspan><tspan font-size="8" dy="-4.5">&#8722;1</tspan><tspan dy="4.5"> kpc</tspan><tspan font-size="8" dy="-4.5">&#8722;2</tspan><tspan dy="4.5">)</tspan></text>
<text x="548.20" y="332.40" font-size="12.00" text-anchor="middle" font-weight="normal" font-style="italic" fill="#231f20">z</text>
<text transform="translate(606.5 120.8) rotate(-12)" font-size="12" fill="#231f20">Cosmic</text>
<line x1="490.50" y1="239.20" x2="490.50" y2="250.60" stroke="#000" stroke-width="1.05"/>
<line x1="487.00" y1="239.20" x2="494.00" y2="239.20" stroke="#000" stroke-width="1.05"/>
<line x1="487.00" y1="250.60" x2="494.00" y2="250.60" stroke="#000" stroke-width="1.05"/>
<line x1="487.20" y1="249.20" x2="493.60" y2="249.20" stroke="#000" stroke-width="1.0"/>
<rect x="488.50" y="242.90" width="4.00" height="4.00" fill="#000" stroke="#fff" stroke-width="1.80" paint-order="stroke"/>
<line x1="490.50" y1="255.30" x2="490.50" y2="266.70" stroke="#000" stroke-width="1.05"/>
<line x1="487.00" y1="255.30" x2="494.00" y2="255.30" stroke="#000" stroke-width="1.05"/>
<line x1="487.00" y1="266.70" x2="494.00" y2="266.70" stroke="#000" stroke-width="1.05"/>
<line x1="487.20" y1="265.30" x2="493.60" y2="265.30" stroke="#000" stroke-width="1.0"/>
<polygon points="490.50,258.40 493.10,261.00 490.50,263.60 487.90,261.00" fill="#000" stroke="#fff" stroke-width="1.80" paint-order="stroke"/>
<polygon points="490.50,258.40 493.10,261.00 490.50,263.60 487.90,261.00" fill="#000"/>
<line x1="490.50" y1="271.20" x2="490.50" y2="282.60" stroke="#000" stroke-width="1.05"/>
<line x1="487.00" y1="271.20" x2="494.00" y2="271.20" stroke="#000" stroke-width="1.05"/>
<line x1="487.00" y1="282.60" x2="494.00" y2="282.60" stroke="#000" stroke-width="1.05"/>
<line x1="487.20" y1="281.20" x2="493.60" y2="281.20" stroke="#000" stroke-width="1.0"/>
<path d="M488.40 274.80L492.60 279.00M488.40 279.00L492.60 274.80" stroke="#fff" stroke-width="3.30" stroke-linecap="round"/>
<path d="M488.40 274.80L492.60 279.00M488.40 279.00L492.60 274.80" stroke="#000" stroke-width="1.10"/>
<text x="500.40" y="248.60" font-size="12.00" text-anchor="start" font-weight="normal" font-style="normal" fill="#231f20" textLength="85.90" lengthAdjust="spacingAndGlyphs">CO 2&#8211;1 galaxies</text>
<text x="500.40" y="264.40" font-size="12.00" text-anchor="start" font-weight="normal" font-style="normal" fill="#231f20" textLength="88.80" lengthAdjust="spacingAndGlyphs">CO 3&#8211;2 galaxies</text>
<text x="500.40" y="281.00" font-size="12.00" text-anchor="start" font-weight="normal" font-style="normal" fill="#231f20" textLength="134.60" lengthAdjust="spacingAndGlyphs">BzK galaxies (Daddi + 15)</text>
<text x="591.60" y="255.60" font-size="12.00" text-anchor="start" font-weight="normal" font-style="normal" fill="#231f20" textLength="87.40" lengthAdjust="spacingAndGlyphs">(Boogaard + 20)</text>
<text transform="translate(11.6 536) rotate(-90)" font-size="12" fill="#231f20"><tspan font-style="italic">t</tspan><tspan font-size="8.5" dy="2.5">dep</tspan><tspan dy="-2.5"> (Gyr)</tspan></text>
<text x="188.20" y="685.80" font-size="12.00" text-anchor="middle" font-weight="normal" font-style="italic" fill="#231f20">z</text>
<text transform="translate(172.6 478.4) rotate(6.5)" font-size="12" fill="#231f20">Cosmic</text>
<text transform="translate(103.8 520.2) rotate(9.2)" font-size="12" font-style="italic" fill="#231f20" textLength="209.5" lengthAdjust="spacingAndGlyphs">Main-sequence galaxies (Tacconi + 20)</text>
<text x="62.8" y="635.8" font-size="11.5" fill="#231f20"><tspan font-style="italic">t</tspan><tspan font-size="8" dy="2.4">dep</tspan><tspan dy="-2.4"> = </tspan><tspan font-style="italic">&#961;</tspan><tspan font-size="5.5" dy="2.4">H</tspan><tspan font-size="4" dy="1.4">2</tspan><tspan dy="-3.8">/</tspan><tspan font-style="italic">&#961;</tspan><tspan font-size="5.5" dy="2.4">SFR</tspan></text>
<text transform="translate(377 573) rotate(-90)" font-size="12" fill="#231f20">log <tspan font-style="italic">&#931;</tspan><tspan font-size="7" dy="2.5">SFR</tspan><tspan dy="-2.5"> (</tspan><tspan font-style="italic">M</tspan><tspan font-size="8" dy="2.5">&#8857;</tspan><tspan dy="-2.5"> yr</tspan><tspan font-size="8" dy="-4.5">&#8722;1</tspan><tspan dy="4.5"> kpc</tspan><tspan font-size="8" dy="-4.5">&#8722;2</tspan><tspan dy="4.5">)</tspan></text>
<text x="503.7" y="688.9" font-size="12" fill="#231f20">log <tspan font-style="italic">&#931;</tspan><tspan font-size="8.5" dy="3.2">H</tspan><tspan font-size="5.5" dy="2">2</tspan><tspan dy="-5.2"> (</tspan><tspan font-style="italic">M</tspan><tspan font-size="8" dy="2.5">&#8857;</tspan><tspan dy="-2.5"> pc</tspan><tspan font-size="8" dy="-4.5">&#8722;2</tspan><tspan dy="4.5">)</tspan></text>
<text transform="translate(419.5 541.0) rotate(-45)" font-size="12" fill="#231f20"><tspan>t</tspan><tspan font-size="8.5" dy="2.4">dep</tspan><tspan dy="-2.4"> (Gyr)</tspan></text>
<text transform="translate(424.6 566.6) rotate(-45)" font-size="11.5" fill="#231f20">0.1</text>
<text transform="translate(424.0 630.0) rotate(-45)" font-size="11.5" fill="#231f20">1</text>
<text transform="translate(497.0 641.0) rotate(-45)" font-size="11.5" fill="#231f20">10</text>
<text transform="translate(470.0 563.5) rotate(-55.8)" font-size="12" fill="#231f20">Kennicutt-Schmidt <tspan font-style="italic">z</tspan> = 0</text>
<text transform="translate(544.5 580.0) rotate(-54.2)" font-size="12" fill="#231f20">Cosmic background (this work)</text>
<path d="M334.60 155.05 L342.40 155.05 L339.60 150.80 L353.60 156.80 L339.60 162.80 L342.40 158.55 L334.60 158.55 L334.60 155.05 Z" fill="#3d3d3d"/>
<path d="M334.60 508.25 L342.40 508.25 L339.60 504.00 L353.60 510.00 L339.60 516.00 L342.40 511.75 L334.60 511.75 L334.60 508.25 Z" fill="#3d3d3d"/>
<path d="M546.45 342.2 L549.95 342.2 L549.95 350.0 L554.2 347.3 L548.2 361.0 L542.2 347.3 L546.45 350.0 Z" fill="#3d3d3d"/>
</svg>
</body></html>
